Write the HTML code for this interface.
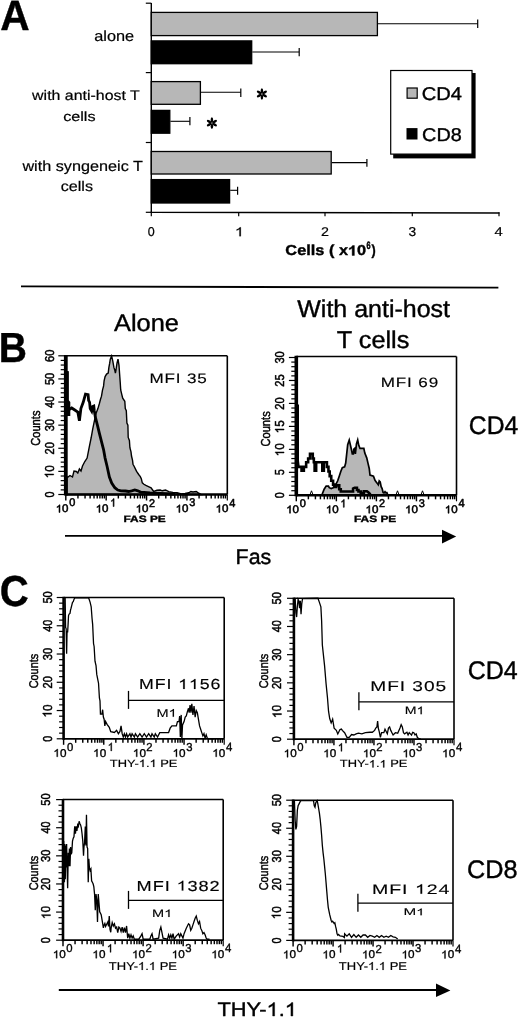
<!DOCTYPE html>
<html><head><meta charset="utf-8"><style>
html,body{margin:0;padding:0;background:#fff;}
svg{display:block;will-change:transform;}
text{text-rendering:geometricPrecision;}
text{font-family:"Liberation Sans",sans-serif;}
</style></head><body>
<svg width="520" height="1019" viewBox="0 0 520 1019">
<rect width="520" height="1019" fill="#fff"/>
<line x1="151.30" y1="3.00" x2="151.30" y2="212.80" stroke="#000" stroke-width="1.4" stroke-linecap="butt"/>
<line x1="145.80" y1="3.20" x2="151.30" y2="3.20" stroke="#000" stroke-width="1.2" stroke-linecap="butt"/>
<line x1="145.80" y1="72.60" x2="151.30" y2="72.60" stroke="#000" stroke-width="1.2" stroke-linecap="butt"/>
<line x1="145.80" y1="142.50" x2="151.30" y2="142.50" stroke="#000" stroke-width="1.2" stroke-linecap="butt"/>
<line x1="145.80" y1="212.30" x2="151.30" y2="212.30" stroke="#000" stroke-width="1.2" stroke-linecap="butt"/>
<line x1="150.60" y1="212.30" x2="499.50" y2="213.00" stroke="#000" stroke-width="1.3" stroke-linecap="butt"/>
<line x1="151.30" y1="212.30" x2="151.30" y2="216.30" stroke="#000" stroke-width="1.2" stroke-linecap="butt"/>
<line x1="238.70" y1="212.30" x2="238.70" y2="216.30" stroke="#000" stroke-width="1.2" stroke-linecap="butt"/>
<line x1="325.00" y1="212.30" x2="325.00" y2="216.30" stroke="#000" stroke-width="1.2" stroke-linecap="butt"/>
<line x1="412.30" y1="212.30" x2="412.30" y2="216.30" stroke="#000" stroke-width="1.2" stroke-linecap="butt"/>
<line x1="499.00" y1="212.30" x2="499.00" y2="216.30" stroke="#000" stroke-width="1.2" stroke-linecap="butt"/>
<line x1="378.00" y1="23.70" x2="477.70" y2="23.70" stroke="#000" stroke-width="1.1" stroke-linecap="butt"/>
<line x1="477.70" y1="19.40" x2="477.70" y2="27.90" stroke="#000" stroke-width="1.2" stroke-linecap="butt"/>
<rect x="151.30" y="12.40" width="226.10" height="23.20" fill="#b7b7b7" stroke="#000" stroke-width="1.3"/>
<line x1="252.30" y1="52.00" x2="299.20" y2="52.00" stroke="#000" stroke-width="1.1" stroke-linecap="butt"/>
<line x1="299.20" y1="48.00" x2="299.20" y2="56.20" stroke="#000" stroke-width="1.2" stroke-linecap="butt"/>
<rect x="151.30" y="40.90" width="100.40" height="22.80" fill="#000" stroke="#000" stroke-width="1.3"/>
<line x1="201.00" y1="92.30" x2="240.80" y2="92.30" stroke="#000" stroke-width="1.1" stroke-linecap="butt"/>
<line x1="240.80" y1="88.50" x2="240.80" y2="96.90" stroke="#000" stroke-width="1.2" stroke-linecap="butt"/>
<rect x="151.30" y="81.60" width="49.10" height="22.70" fill="#b7b7b7" stroke="#000" stroke-width="1.3"/>
<line x1="170.40" y1="121.30" x2="189.90" y2="121.30" stroke="#000" stroke-width="1.1" stroke-linecap="butt"/>
<line x1="189.90" y1="117.00" x2="189.90" y2="125.20" stroke="#000" stroke-width="1.2" stroke-linecap="butt"/>
<rect x="151.30" y="110.40" width="18.50" height="22.80" fill="#000" stroke="#000" stroke-width="1.3"/>
<line x1="331.80" y1="162.60" x2="366.90" y2="162.60" stroke="#000" stroke-width="1.1" stroke-linecap="butt"/>
<line x1="366.90" y1="159.00" x2="366.90" y2="166.80" stroke="#000" stroke-width="1.2" stroke-linecap="butt"/>
<rect x="151.30" y="151.50" width="179.90" height="22.50" fill="#b7b7b7" stroke="#000" stroke-width="1.3"/>
<line x1="230.20" y1="190.30" x2="237.60" y2="190.30" stroke="#000" stroke-width="1.1" stroke-linecap="butt"/>
<line x1="237.60" y1="186.80" x2="237.60" y2="194.80" stroke="#000" stroke-width="1.2" stroke-linecap="butt"/>
<rect x="151.30" y="179.60" width="78.30" height="23.40" fill="#000" stroke="#000" stroke-width="1.3"/>
<ellipse cx="261.90" cy="90.90" rx="2.7" ry="1.25" transform="rotate(-90 261.90 90.90)" fill="#000"/>
<ellipse cx="261.90" cy="97.10" rx="2.7" ry="1.25" transform="rotate(-270 261.90 97.10)" fill="#000"/>
<ellipse cx="264.58" cy="92.45" rx="2.7" ry="1.25" transform="rotate(-30 264.58 92.45)" fill="#000"/>
<ellipse cx="259.22" cy="92.45" rx="2.7" ry="1.25" transform="rotate(-150 259.22 92.45)" fill="#000"/>
<ellipse cx="259.22" cy="95.55" rx="2.7" ry="1.25" transform="rotate(-210 259.22 95.55)" fill="#000"/>
<ellipse cx="264.58" cy="95.55" rx="2.7" ry="1.25" transform="rotate(-330 264.58 95.55)" fill="#000"/>
<ellipse cx="211.90" cy="120.00" rx="2.7" ry="1.25" transform="rotate(-90 211.90 120.00)" fill="#000"/>
<ellipse cx="211.90" cy="126.20" rx="2.7" ry="1.25" transform="rotate(-270 211.90 126.20)" fill="#000"/>
<ellipse cx="214.58" cy="121.55" rx="2.7" ry="1.25" transform="rotate(-30 214.58 121.55)" fill="#000"/>
<ellipse cx="209.22" cy="121.55" rx="2.7" ry="1.25" transform="rotate(-150 209.22 121.55)" fill="#000"/>
<ellipse cx="209.22" cy="124.65" rx="2.7" ry="1.25" transform="rotate(-210 209.22 124.65)" fill="#000"/>
<ellipse cx="214.58" cy="124.65" rx="2.7" ry="1.25" transform="rotate(-330 214.58 124.65)" fill="#000"/>
<rect x="393.20" y="73.00" width="82.40" height="85.40" fill="#000" stroke="none" stroke-width="1"/>
<rect x="390.70" y="70.50" width="81.30" height="83.60" fill="#fff" stroke="#000" stroke-width="1.2"/>
<rect x="407.10" y="88.00" width="10.10" height="10.20" fill="#b7b7b7" stroke="#000" stroke-width="1.2"/>
<rect x="406.50" y="128.10" width="11.00" height="11.40" fill="#000" stroke="none" stroke-width="1"/>
<line x1="21.00" y1="286.30" x2="498.40" y2="287.70" stroke="#000" stroke-width="1.8" stroke-linecap="butt"/>
<line x1="65.00" y1="535.90" x2="443.00" y2="535.90" stroke="#000" stroke-width="1.9" stroke-linecap="butt"/>
<path d="M442.00,529.80 L456.20,536.60 L442.00,543.50 Z" fill="#000" stroke="none" stroke-width="1" stroke-linejoin="miter"/>
<line x1="58.80" y1="990.00" x2="437.00" y2="990.00" stroke="#000" stroke-width="1.9" stroke-linecap="butt"/>
<path d="M436.00,983.60 L450.40,990.40 L436.00,997.10 Z" fill="#000" stroke="none" stroke-width="1" stroke-linejoin="miter"/>
<path d="M67.00,494.50 L67.00,477.00 L68.00,477.00 L70.00,475.50 L72.50,477.00 L74.00,471.00 L76.30,471.50 L77.80,473.00 L79.40,469.00 L81.00,471.00 L82.50,466.00 L84.80,461.50 L87.10,458.10 L89.10,447.80 L91.20,437.50 L92.70,429.20 L94.80,418.90 L96.30,412.70 L97.90,408.60 L99.40,403.50 L100.50,399.30 L101.50,396.20 L102.50,390.10 L103.60,385.90 L104.10,380.80 L105.10,376.60 L106.60,374.10 L108.20,373.00 L108.90,367.40 L109.70,363.20 L110.30,359.10 L111.60,356.00 L112.80,361.20 L113.90,367.40 L114.90,370.50 L115.40,373.00 L115.90,370.50 L117.00,363.20 L118.00,359.10 L119.00,365.30 L119.50,372.50 L120.20,382.00 L120.70,390.00 L121.70,394.10 L122.70,398.20 L124.80,401.30 L125.30,408.60 L126.30,410.60 L126.90,423.00 L127.90,425.10 L128.20,437.40 L129.40,440.50 L129.90,447.70 L131.00,451.90 L131.50,456.00 L132.50,460.10 L133.00,464.20 L134.10,466.30 L135.60,469.40 L136.60,471.40 L138.70,474.50 L140.30,476.60 L141.30,478.70 L142.30,482.80 L143.90,484.30 L145.90,485.40 L149.00,486.90 L151.10,487.90 L152.60,490.00 L153.70,491.50 L157.00,490.30 L160.20,490.00 L162.30,490.80 L165.50,490.00 L168.70,491.70 L172.90,492.40 L177.10,492.80 L181.30,494.00 L185.00,493.50 L188.80,492.80 L190.90,491.50 L193.00,492.00 L196.20,491.50 L198.30,492.80 L200.40,494.00 L201.00,494.50 Z" fill="#b7b7b7" stroke="#000" stroke-width="1.4" stroke-linejoin="miter"/>
<path d="M67.30,371.50 L67.30,408.50 L70.00,409.00 L71.70,408.00 L74.80,410.00 L77.80,412.00 L79.40,420.80 L80.90,408.50 L83.20,402.30 L85.50,394.20 L88.10,394.70 L88.60,400.40 L89.60,402.40 L90.20,408.60 L91.70,411.20 L92.70,406.50 L93.80,406.00 L94.30,410.70 L95.30,416.90 L97.40,425.10 L99.40,433.40 L101.50,441.60 L103.60,449.80 L105.10,458.10 L107.00,466.00 L109.40,477.00 L111.70,483.00 L114.80,487.70 L117.80,490.00 L121.00,490.80 L125.50,491.00 L128.60,491.50 L131.70,490.80 L134.80,490.00 L137.80,490.80 L141.00,492.30 L144.00,492.30 L150.00,493.00 L160.00,493.50 L175.00,494.00" fill="none" stroke="#000" stroke-width="2.8" stroke-linejoin="miter"/>
<path d="M64.00,371.00 L68.60,371.00 L68.60,400.00 L70.30,402.00 L70.30,416.00 L64.00,416.00 Z" fill="#000" stroke="none" stroke-width="1" stroke-linejoin="miter"/>
<line x1="65.80" y1="355.80" x2="227.30" y2="355.80" stroke="#000" stroke-width="1.5" stroke-linecap="butt"/>
<line x1="227.30" y1="355.80" x2="227.30" y2="494.50" stroke="#000" stroke-width="1.6" stroke-linecap="butt"/>
<line x1="65.80" y1="494.50" x2="227.30" y2="494.50" stroke="#000" stroke-width="2.4" stroke-linecap="butt"/>
<line x1="65.80" y1="355.10" x2="65.80" y2="495.50" stroke="#000" stroke-width="3.8" stroke-linecap="butt"/>
<line x1="58.30" y1="494.50" x2="65.80" y2="494.50" stroke="#000" stroke-width="1.2" stroke-linecap="butt"/>
<line x1="60.70" y1="489.88" x2="65.80" y2="489.88" stroke="#000" stroke-width="1.2" stroke-linecap="butt"/>
<line x1="60.70" y1="485.25" x2="65.80" y2="485.25" stroke="#000" stroke-width="1.2" stroke-linecap="butt"/>
<line x1="60.70" y1="480.63" x2="65.80" y2="480.63" stroke="#000" stroke-width="1.2" stroke-linecap="butt"/>
<line x1="60.70" y1="476.01" x2="65.80" y2="476.01" stroke="#000" stroke-width="1.2" stroke-linecap="butt"/>
<line x1="58.30" y1="471.38" x2="65.80" y2="471.38" stroke="#000" stroke-width="1.2" stroke-linecap="butt"/>
<line x1="60.70" y1="466.76" x2="65.80" y2="466.76" stroke="#000" stroke-width="1.2" stroke-linecap="butt"/>
<line x1="60.70" y1="462.14" x2="65.80" y2="462.14" stroke="#000" stroke-width="1.2" stroke-linecap="butt"/>
<line x1="60.70" y1="457.51" x2="65.80" y2="457.51" stroke="#000" stroke-width="1.2" stroke-linecap="butt"/>
<line x1="60.70" y1="452.89" x2="65.80" y2="452.89" stroke="#000" stroke-width="1.2" stroke-linecap="butt"/>
<line x1="58.30" y1="448.27" x2="65.80" y2="448.27" stroke="#000" stroke-width="1.2" stroke-linecap="butt"/>
<line x1="60.70" y1="443.64" x2="65.80" y2="443.64" stroke="#000" stroke-width="1.2" stroke-linecap="butt"/>
<line x1="60.70" y1="439.02" x2="65.80" y2="439.02" stroke="#000" stroke-width="1.2" stroke-linecap="butt"/>
<line x1="60.70" y1="434.40" x2="65.80" y2="434.40" stroke="#000" stroke-width="1.2" stroke-linecap="butt"/>
<line x1="60.70" y1="429.77" x2="65.80" y2="429.77" stroke="#000" stroke-width="1.2" stroke-linecap="butt"/>
<line x1="58.30" y1="425.15" x2="65.80" y2="425.15" stroke="#000" stroke-width="1.2" stroke-linecap="butt"/>
<line x1="60.70" y1="420.53" x2="65.80" y2="420.53" stroke="#000" stroke-width="1.2" stroke-linecap="butt"/>
<line x1="60.70" y1="415.90" x2="65.80" y2="415.90" stroke="#000" stroke-width="1.2" stroke-linecap="butt"/>
<line x1="60.70" y1="411.28" x2="65.80" y2="411.28" stroke="#000" stroke-width="1.2" stroke-linecap="butt"/>
<line x1="60.70" y1="406.66" x2="65.80" y2="406.66" stroke="#000" stroke-width="1.2" stroke-linecap="butt"/>
<line x1="58.30" y1="402.03" x2="65.80" y2="402.03" stroke="#000" stroke-width="1.2" stroke-linecap="butt"/>
<line x1="60.70" y1="397.41" x2="65.80" y2="397.41" stroke="#000" stroke-width="1.2" stroke-linecap="butt"/>
<line x1="60.70" y1="392.79" x2="65.80" y2="392.79" stroke="#000" stroke-width="1.2" stroke-linecap="butt"/>
<line x1="60.70" y1="388.16" x2="65.80" y2="388.16" stroke="#000" stroke-width="1.2" stroke-linecap="butt"/>
<line x1="60.70" y1="383.54" x2="65.80" y2="383.54" stroke="#000" stroke-width="1.2" stroke-linecap="butt"/>
<line x1="58.30" y1="378.92" x2="65.80" y2="378.92" stroke="#000" stroke-width="1.2" stroke-linecap="butt"/>
<line x1="60.70" y1="374.29" x2="65.80" y2="374.29" stroke="#000" stroke-width="1.2" stroke-linecap="butt"/>
<line x1="60.70" y1="369.67" x2="65.80" y2="369.67" stroke="#000" stroke-width="1.2" stroke-linecap="butt"/>
<line x1="60.70" y1="365.05" x2="65.80" y2="365.05" stroke="#000" stroke-width="1.2" stroke-linecap="butt"/>
<line x1="60.70" y1="360.42" x2="65.80" y2="360.42" stroke="#000" stroke-width="1.2" stroke-linecap="butt"/>
<line x1="58.30" y1="355.80" x2="65.80" y2="355.80" stroke="#000" stroke-width="1.2" stroke-linecap="butt"/>
<line x1="65.80" y1="494.50" x2="65.80" y2="500.50" stroke="#000" stroke-width="1.45" stroke-linecap="butt"/>
<line x1="77.95" y1="494.50" x2="77.95" y2="498.50" stroke="#000" stroke-width="1.45" stroke-linecap="butt"/>
<line x1="85.06" y1="494.50" x2="85.06" y2="498.50" stroke="#000" stroke-width="1.45" stroke-linecap="butt"/>
<line x1="90.11" y1="494.50" x2="90.11" y2="498.50" stroke="#000" stroke-width="1.45" stroke-linecap="butt"/>
<line x1="94.02" y1="494.50" x2="94.02" y2="498.50" stroke="#000" stroke-width="1.45" stroke-linecap="butt"/>
<line x1="97.22" y1="494.50" x2="97.22" y2="498.50" stroke="#000" stroke-width="1.45" stroke-linecap="butt"/>
<line x1="99.92" y1="494.50" x2="99.92" y2="498.50" stroke="#000" stroke-width="1.45" stroke-linecap="butt"/>
<line x1="102.26" y1="494.50" x2="102.26" y2="498.50" stroke="#000" stroke-width="1.45" stroke-linecap="butt"/>
<line x1="104.33" y1="494.50" x2="104.33" y2="498.50" stroke="#000" stroke-width="1.45" stroke-linecap="butt"/>
<line x1="106.17" y1="494.50" x2="106.17" y2="500.50" stroke="#000" stroke-width="1.45" stroke-linecap="butt"/>
<line x1="118.33" y1="494.50" x2="118.33" y2="498.50" stroke="#000" stroke-width="1.45" stroke-linecap="butt"/>
<line x1="125.44" y1="494.50" x2="125.44" y2="498.50" stroke="#000" stroke-width="1.45" stroke-linecap="butt"/>
<line x1="130.48" y1="494.50" x2="130.48" y2="498.50" stroke="#000" stroke-width="1.45" stroke-linecap="butt"/>
<line x1="134.40" y1="494.50" x2="134.40" y2="498.50" stroke="#000" stroke-width="1.45" stroke-linecap="butt"/>
<line x1="137.59" y1="494.50" x2="137.59" y2="498.50" stroke="#000" stroke-width="1.45" stroke-linecap="butt"/>
<line x1="140.30" y1="494.50" x2="140.30" y2="498.50" stroke="#000" stroke-width="1.45" stroke-linecap="butt"/>
<line x1="142.64" y1="494.50" x2="142.64" y2="498.50" stroke="#000" stroke-width="1.45" stroke-linecap="butt"/>
<line x1="144.70" y1="494.50" x2="144.70" y2="498.50" stroke="#000" stroke-width="1.45" stroke-linecap="butt"/>
<line x1="146.55" y1="494.50" x2="146.55" y2="500.50" stroke="#000" stroke-width="1.45" stroke-linecap="butt"/>
<line x1="158.70" y1="494.50" x2="158.70" y2="498.50" stroke="#000" stroke-width="1.45" stroke-linecap="butt"/>
<line x1="165.81" y1="494.50" x2="165.81" y2="498.50" stroke="#000" stroke-width="1.45" stroke-linecap="butt"/>
<line x1="170.86" y1="494.50" x2="170.86" y2="498.50" stroke="#000" stroke-width="1.45" stroke-linecap="butt"/>
<line x1="174.77" y1="494.50" x2="174.77" y2="498.50" stroke="#000" stroke-width="1.45" stroke-linecap="butt"/>
<line x1="177.97" y1="494.50" x2="177.97" y2="498.50" stroke="#000" stroke-width="1.45" stroke-linecap="butt"/>
<line x1="180.67" y1="494.50" x2="180.67" y2="498.50" stroke="#000" stroke-width="1.45" stroke-linecap="butt"/>
<line x1="183.01" y1="494.50" x2="183.01" y2="498.50" stroke="#000" stroke-width="1.45" stroke-linecap="butt"/>
<line x1="185.08" y1="494.50" x2="185.08" y2="498.50" stroke="#000" stroke-width="1.45" stroke-linecap="butt"/>
<line x1="186.93" y1="494.50" x2="186.93" y2="500.50" stroke="#000" stroke-width="1.45" stroke-linecap="butt"/>
<line x1="199.08" y1="494.50" x2="199.08" y2="498.50" stroke="#000" stroke-width="1.45" stroke-linecap="butt"/>
<line x1="206.19" y1="494.50" x2="206.19" y2="498.50" stroke="#000" stroke-width="1.45" stroke-linecap="butt"/>
<line x1="211.23" y1="494.50" x2="211.23" y2="498.50" stroke="#000" stroke-width="1.45" stroke-linecap="butt"/>
<line x1="215.15" y1="494.50" x2="215.15" y2="498.50" stroke="#000" stroke-width="1.45" stroke-linecap="butt"/>
<line x1="218.34" y1="494.50" x2="218.34" y2="498.50" stroke="#000" stroke-width="1.45" stroke-linecap="butt"/>
<line x1="221.05" y1="494.50" x2="221.05" y2="498.50" stroke="#000" stroke-width="1.45" stroke-linecap="butt"/>
<line x1="223.39" y1="494.50" x2="223.39" y2="498.50" stroke="#000" stroke-width="1.45" stroke-linecap="butt"/>
<line x1="225.45" y1="494.50" x2="225.45" y2="498.50" stroke="#000" stroke-width="1.45" stroke-linecap="butt"/>
<line x1="227.30" y1="494.50" x2="227.30" y2="500.50" stroke="#000" stroke-width="1.2" stroke-linecap="butt"/>
<path d="M322.31,495.30 L322.31,493.85 L324.15,489.23 L326.15,486.15 L328.46,486.15 L329.23,487.69 L331.23,488.46 L333.08,487.69 L334.62,486.15 L336.15,483.85 L337.69,480.77 L339.23,476.15 L340.77,471.54 L342.31,467.69 L344.62,466.92 L345.69,463.08 L346.62,454.62 L347.69,444.62 L349.23,440.00 L350.31,444.62 L351.54,450.00 L352.31,453.85 L353.38,453.85 L353.85,449.23 L354.62,448.46 L355.38,453.85 L356.46,443.85 L357.69,440.00 L358.77,445.38 L360.00,448.46 L363.85,448.46 L364.81,453.08 L366.73,457.88 L368.08,463.65 L369.23,468.46 L370.00,475.19 L373.46,476.15 L375.00,480.38 L376.92,482.88 L378.27,484.81 L379.23,480.96 L380.19,481.92 L381.15,486.73 L382.12,488.65 L383.08,492.50 L386.92,492.50 L387.88,495.30 Z" fill="#b7b7b7" stroke="#000" stroke-width="1.7" stroke-linejoin="miter"/>
<path d="M297.69,404.50 L297.69,460.77 L298.46,466.92 L301.54,466.92 L301.54,470.77 L303.85,470.77 L303.85,466.92 L306.15,466.92 L306.15,462.31 L308.15,462.31 L308.15,458.46 L310.00,458.46 L310.00,453.85 L312.77,453.85 L312.77,458.46 L313.85,458.46 L313.85,462.31 L314.62,462.31 L314.62,470.77 L316.15,470.77 L316.15,462.31 L322.31,462.31 L322.31,470.77 L323.85,470.77 L323.85,462.31 L326.92,462.31 L326.92,466.92 L328.46,466.92 L328.46,471.54 L329.69,471.54 L329.69,476.15 L331.23,476.15 L331.23,480.77 L333.08,480.77 L333.08,484.62 L334.62,484.62 L334.62,486.92 L336.15,486.92 L336.15,485.38 L339.23,485.38 L339.23,489.23 L340.77,489.23 L340.77,491.54 L353.08,491.54 L353.08,488.46 L354.62,487.69 L356.92,487.69 L356.92,490.00 L358.46,490.00 L358.46,491.54 L360.77,491.54 L360.77,493.08 L363.85,493.08 L363.85,491.23 L366.92,491.23 L368.50,492.50 L370.50,494.50" fill="none" stroke="#000" stroke-width="2.6" stroke-linejoin="miter"/>
<path d="M309.90,495.00 L311.50,490.80 L313.10,495.00" fill="none" stroke="#000" stroke-width="1.0" stroke-linejoin="miter"/>
<path d="M383.40,495.00 L385.00,490.80 L386.60,495.00" fill="none" stroke="#000" stroke-width="1.0" stroke-linejoin="miter"/>
<path d="M395.90,495.00 L397.50,490.80 L399.10,495.00" fill="none" stroke="#000" stroke-width="1.0" stroke-linejoin="miter"/>
<path d="M420.90,495.00 L422.50,490.80 L424.10,495.00" fill="none" stroke="#000" stroke-width="1.0" stroke-linejoin="miter"/>
<line x1="296.30" y1="356.50" x2="456.50" y2="356.50" stroke="#000" stroke-width="1.5" stroke-linecap="butt"/>
<line x1="456.50" y1="356.50" x2="456.50" y2="495.30" stroke="#000" stroke-width="1.6" stroke-linecap="butt"/>
<line x1="296.30" y1="495.30" x2="456.50" y2="495.30" stroke="#000" stroke-width="2.4" stroke-linecap="butt"/>
<line x1="296.30" y1="355.80" x2="296.30" y2="496.30" stroke="#000" stroke-width="3.6" stroke-linecap="butt"/>
<line x1="288.90" y1="495.30" x2="296.30" y2="495.30" stroke="#000" stroke-width="1.2" stroke-linecap="butt"/>
<line x1="291.30" y1="490.71" x2="296.30" y2="490.71" stroke="#000" stroke-width="1.2" stroke-linecap="butt"/>
<line x1="291.30" y1="486.11" x2="296.30" y2="486.11" stroke="#000" stroke-width="1.2" stroke-linecap="butt"/>
<line x1="291.30" y1="481.52" x2="296.30" y2="481.52" stroke="#000" stroke-width="1.2" stroke-linecap="butt"/>
<line x1="291.30" y1="476.93" x2="296.30" y2="476.93" stroke="#000" stroke-width="1.2" stroke-linecap="butt"/>
<line x1="288.90" y1="472.33" x2="296.30" y2="472.33" stroke="#000" stroke-width="1.2" stroke-linecap="butt"/>
<line x1="291.30" y1="467.74" x2="296.30" y2="467.74" stroke="#000" stroke-width="1.2" stroke-linecap="butt"/>
<line x1="291.30" y1="463.15" x2="296.30" y2="463.15" stroke="#000" stroke-width="1.2" stroke-linecap="butt"/>
<line x1="291.30" y1="458.55" x2="296.30" y2="458.55" stroke="#000" stroke-width="1.2" stroke-linecap="butt"/>
<line x1="291.30" y1="453.96" x2="296.30" y2="453.96" stroke="#000" stroke-width="1.2" stroke-linecap="butt"/>
<line x1="288.90" y1="449.37" x2="296.30" y2="449.37" stroke="#000" stroke-width="1.2" stroke-linecap="butt"/>
<line x1="291.30" y1="444.77" x2="296.30" y2="444.77" stroke="#000" stroke-width="1.2" stroke-linecap="butt"/>
<line x1="291.30" y1="440.18" x2="296.30" y2="440.18" stroke="#000" stroke-width="1.2" stroke-linecap="butt"/>
<line x1="291.30" y1="435.59" x2="296.30" y2="435.59" stroke="#000" stroke-width="1.2" stroke-linecap="butt"/>
<line x1="291.30" y1="430.99" x2="296.30" y2="430.99" stroke="#000" stroke-width="1.2" stroke-linecap="butt"/>
<line x1="288.90" y1="426.40" x2="296.30" y2="426.40" stroke="#000" stroke-width="1.2" stroke-linecap="butt"/>
<line x1="291.30" y1="421.81" x2="296.30" y2="421.81" stroke="#000" stroke-width="1.2" stroke-linecap="butt"/>
<line x1="291.30" y1="417.21" x2="296.30" y2="417.21" stroke="#000" stroke-width="1.2" stroke-linecap="butt"/>
<line x1="291.30" y1="412.62" x2="296.30" y2="412.62" stroke="#000" stroke-width="1.2" stroke-linecap="butt"/>
<line x1="291.30" y1="408.03" x2="296.30" y2="408.03" stroke="#000" stroke-width="1.2" stroke-linecap="butt"/>
<line x1="288.90" y1="403.43" x2="296.30" y2="403.43" stroke="#000" stroke-width="1.2" stroke-linecap="butt"/>
<line x1="291.30" y1="398.84" x2="296.30" y2="398.84" stroke="#000" stroke-width="1.2" stroke-linecap="butt"/>
<line x1="291.30" y1="394.25" x2="296.30" y2="394.25" stroke="#000" stroke-width="1.2" stroke-linecap="butt"/>
<line x1="291.30" y1="389.65" x2="296.30" y2="389.65" stroke="#000" stroke-width="1.2" stroke-linecap="butt"/>
<line x1="291.30" y1="385.06" x2="296.30" y2="385.06" stroke="#000" stroke-width="1.2" stroke-linecap="butt"/>
<line x1="288.90" y1="380.47" x2="296.30" y2="380.47" stroke="#000" stroke-width="1.2" stroke-linecap="butt"/>
<line x1="291.30" y1="375.87" x2="296.30" y2="375.87" stroke="#000" stroke-width="1.2" stroke-linecap="butt"/>
<line x1="291.30" y1="371.28" x2="296.30" y2="371.28" stroke="#000" stroke-width="1.2" stroke-linecap="butt"/>
<line x1="291.30" y1="366.69" x2="296.30" y2="366.69" stroke="#000" stroke-width="1.2" stroke-linecap="butt"/>
<line x1="291.30" y1="362.09" x2="296.30" y2="362.09" stroke="#000" stroke-width="1.2" stroke-linecap="butt"/>
<line x1="288.90" y1="357.50" x2="296.30" y2="357.50" stroke="#000" stroke-width="1.2" stroke-linecap="butt"/>
<line x1="296.30" y1="495.30" x2="296.30" y2="501.30" stroke="#000" stroke-width="1.45" stroke-linecap="butt"/>
<line x1="308.36" y1="495.30" x2="308.36" y2="499.30" stroke="#000" stroke-width="1.45" stroke-linecap="butt"/>
<line x1="315.41" y1="495.30" x2="315.41" y2="499.30" stroke="#000" stroke-width="1.45" stroke-linecap="butt"/>
<line x1="320.41" y1="495.30" x2="320.41" y2="499.30" stroke="#000" stroke-width="1.45" stroke-linecap="butt"/>
<line x1="324.29" y1="495.30" x2="324.29" y2="499.30" stroke="#000" stroke-width="1.45" stroke-linecap="butt"/>
<line x1="327.46" y1="495.30" x2="327.46" y2="499.30" stroke="#000" stroke-width="1.45" stroke-linecap="butt"/>
<line x1="330.15" y1="495.30" x2="330.15" y2="499.30" stroke="#000" stroke-width="1.45" stroke-linecap="butt"/>
<line x1="332.47" y1="495.30" x2="332.47" y2="499.30" stroke="#000" stroke-width="1.45" stroke-linecap="butt"/>
<line x1="334.52" y1="495.30" x2="334.52" y2="499.30" stroke="#000" stroke-width="1.45" stroke-linecap="butt"/>
<line x1="336.35" y1="495.30" x2="336.35" y2="501.30" stroke="#000" stroke-width="1.45" stroke-linecap="butt"/>
<line x1="348.41" y1="495.30" x2="348.41" y2="499.30" stroke="#000" stroke-width="1.45" stroke-linecap="butt"/>
<line x1="355.46" y1="495.30" x2="355.46" y2="499.30" stroke="#000" stroke-width="1.45" stroke-linecap="butt"/>
<line x1="360.46" y1="495.30" x2="360.46" y2="499.30" stroke="#000" stroke-width="1.45" stroke-linecap="butt"/>
<line x1="364.34" y1="495.30" x2="364.34" y2="499.30" stroke="#000" stroke-width="1.45" stroke-linecap="butt"/>
<line x1="367.51" y1="495.30" x2="367.51" y2="499.30" stroke="#000" stroke-width="1.45" stroke-linecap="butt"/>
<line x1="370.20" y1="495.30" x2="370.20" y2="499.30" stroke="#000" stroke-width="1.45" stroke-linecap="butt"/>
<line x1="372.52" y1="495.30" x2="372.52" y2="499.30" stroke="#000" stroke-width="1.45" stroke-linecap="butt"/>
<line x1="374.57" y1="495.30" x2="374.57" y2="499.30" stroke="#000" stroke-width="1.45" stroke-linecap="butt"/>
<line x1="376.40" y1="495.30" x2="376.40" y2="501.30" stroke="#000" stroke-width="1.45" stroke-linecap="butt"/>
<line x1="388.46" y1="495.30" x2="388.46" y2="499.30" stroke="#000" stroke-width="1.45" stroke-linecap="butt"/>
<line x1="395.51" y1="495.30" x2="395.51" y2="499.30" stroke="#000" stroke-width="1.45" stroke-linecap="butt"/>
<line x1="400.51" y1="495.30" x2="400.51" y2="499.30" stroke="#000" stroke-width="1.45" stroke-linecap="butt"/>
<line x1="404.39" y1="495.30" x2="404.39" y2="499.30" stroke="#000" stroke-width="1.45" stroke-linecap="butt"/>
<line x1="407.56" y1="495.30" x2="407.56" y2="499.30" stroke="#000" stroke-width="1.45" stroke-linecap="butt"/>
<line x1="410.25" y1="495.30" x2="410.25" y2="499.30" stroke="#000" stroke-width="1.45" stroke-linecap="butt"/>
<line x1="412.57" y1="495.30" x2="412.57" y2="499.30" stroke="#000" stroke-width="1.45" stroke-linecap="butt"/>
<line x1="414.62" y1="495.30" x2="414.62" y2="499.30" stroke="#000" stroke-width="1.45" stroke-linecap="butt"/>
<line x1="416.45" y1="495.30" x2="416.45" y2="501.30" stroke="#000" stroke-width="1.45" stroke-linecap="butt"/>
<line x1="428.51" y1="495.30" x2="428.51" y2="499.30" stroke="#000" stroke-width="1.45" stroke-linecap="butt"/>
<line x1="435.56" y1="495.30" x2="435.56" y2="499.30" stroke="#000" stroke-width="1.45" stroke-linecap="butt"/>
<line x1="440.56" y1="495.30" x2="440.56" y2="499.30" stroke="#000" stroke-width="1.45" stroke-linecap="butt"/>
<line x1="444.44" y1="495.30" x2="444.44" y2="499.30" stroke="#000" stroke-width="1.45" stroke-linecap="butt"/>
<line x1="447.61" y1="495.30" x2="447.61" y2="499.30" stroke="#000" stroke-width="1.45" stroke-linecap="butt"/>
<line x1="450.30" y1="495.30" x2="450.30" y2="499.30" stroke="#000" stroke-width="1.45" stroke-linecap="butt"/>
<line x1="452.62" y1="495.30" x2="452.62" y2="499.30" stroke="#000" stroke-width="1.45" stroke-linecap="butt"/>
<line x1="454.67" y1="495.30" x2="454.67" y2="499.30" stroke="#000" stroke-width="1.45" stroke-linecap="butt"/>
<line x1="456.50" y1="495.30" x2="456.50" y2="501.30" stroke="#000" stroke-width="1.2" stroke-linecap="butt"/>
<path d="M65.15,597.94 L65.59,627.35 L66.18,628.82 L66.62,653.82 L67.06,631.76 L67.65,631.76 L68.09,624.41 L68.53,615.59 L69.12,614.12 L70.00,613.38 L70.59,609.71 L71.03,608.24 L71.76,605.29 L72.50,602.35 L73.24,601.62 L73.97,599.41 L74.71,597.94 L88.68,597.94 L90.15,602.35 L91.18,606.76 L92.06,618.53 L92.65,624.41 L93.53,643.53 L94.12,646.47 L95.00,661.18 L96.03,665.59 L96.76,674.41 L97.94,680.29 L98.53,683.24 L99.41,697.94 L100.00,700.88 L100.44,714.12 L101.91,714.12 L102.65,709.71 L103.38,717.06 L104.12,719.26 L104.85,725.88 L105.59,721.47 L107.06,724.41 L109.26,727.35 L110.74,731.76 L114.41,732.50 L116.63,730.38 L118.40,733.70 L119.95,731.49 L121.06,725.96 L122.16,733.70 L123.27,737.02 L124.37,733.70 L125.48,737.02 L126.59,733.70 L127.69,737.02 L129.90,733.70 L131.01,737.02 L132.11,733.70 L134.33,737.02 L135.43,733.70 L137.64,737.02 L139.85,733.70 L142.07,737.02 L144.28,733.70 L146.49,737.02 L148.70,733.70 L150.91,737.02 L152.02,733.70 L154.23,737.02 L155.33,733.70 L157.55,737.02 L159.76,732.59 L168.60,732.59 L170.15,728.17 L171.92,725.96 L176.34,725.96 L177.45,721.54 L179.00,721.54 L179.66,716.01 L180.32,737.02 L181.21,714.90 L181.87,739.23 L182.53,724.85 L184.08,721.54 L185.19,717.11 L186.29,716.01 L187.40,711.59 L188.51,708.27 L189.17,712.69 L190.05,704.95 L190.94,712.69 L191.82,703.85 L192.93,714.90 L194.03,706.06 L195.14,717.11 L196.25,710.48 L197.35,712.69 L198.46,719.33 L199.56,725.96 L200.67,729.28 L201.77,732.59 L202.88,735.91 L203.98,733.70 L205.09,738.12 L206.20,734.81 L207.30,738.12 L208.41,738.79 L213.94,738.79" fill="none" stroke="#000" stroke-width="1.3" stroke-linejoin="miter"/>
<line x1="63.60" y1="597.50" x2="224.20" y2="597.50" stroke="#000" stroke-width="1.5" stroke-linecap="butt"/>
<line x1="224.20" y1="597.50" x2="224.20" y2="738.80" stroke="#000" stroke-width="1.6" stroke-linecap="butt"/>
<line x1="63.60" y1="738.80" x2="224.20" y2="738.80" stroke="#000" stroke-width="1.8" stroke-linecap="butt"/>
<line x1="63.60" y1="596.80" x2="63.60" y2="739.80" stroke="#000" stroke-width="2.6" stroke-linecap="butt"/>
<line x1="56.70" y1="738.80" x2="63.60" y2="738.80" stroke="#000" stroke-width="1.2" stroke-linecap="butt"/>
<line x1="59.10" y1="733.15" x2="63.60" y2="733.15" stroke="#000" stroke-width="1.2" stroke-linecap="butt"/>
<line x1="59.10" y1="727.50" x2="63.60" y2="727.50" stroke="#000" stroke-width="1.2" stroke-linecap="butt"/>
<line x1="59.10" y1="721.84" x2="63.60" y2="721.84" stroke="#000" stroke-width="1.2" stroke-linecap="butt"/>
<line x1="59.10" y1="716.19" x2="63.60" y2="716.19" stroke="#000" stroke-width="1.2" stroke-linecap="butt"/>
<line x1="56.70" y1="710.54" x2="63.60" y2="710.54" stroke="#000" stroke-width="1.2" stroke-linecap="butt"/>
<line x1="59.10" y1="704.89" x2="63.60" y2="704.89" stroke="#000" stroke-width="1.2" stroke-linecap="butt"/>
<line x1="59.10" y1="699.24" x2="63.60" y2="699.24" stroke="#000" stroke-width="1.2" stroke-linecap="butt"/>
<line x1="59.10" y1="693.58" x2="63.60" y2="693.58" stroke="#000" stroke-width="1.2" stroke-linecap="butt"/>
<line x1="59.10" y1="687.93" x2="63.60" y2="687.93" stroke="#000" stroke-width="1.2" stroke-linecap="butt"/>
<line x1="56.70" y1="682.28" x2="63.60" y2="682.28" stroke="#000" stroke-width="1.2" stroke-linecap="butt"/>
<line x1="59.10" y1="676.63" x2="63.60" y2="676.63" stroke="#000" stroke-width="1.2" stroke-linecap="butt"/>
<line x1="59.10" y1="670.98" x2="63.60" y2="670.98" stroke="#000" stroke-width="1.2" stroke-linecap="butt"/>
<line x1="59.10" y1="665.32" x2="63.60" y2="665.32" stroke="#000" stroke-width="1.2" stroke-linecap="butt"/>
<line x1="59.10" y1="659.67" x2="63.60" y2="659.67" stroke="#000" stroke-width="1.2" stroke-linecap="butt"/>
<line x1="56.70" y1="654.02" x2="63.60" y2="654.02" stroke="#000" stroke-width="1.2" stroke-linecap="butt"/>
<line x1="59.10" y1="648.37" x2="63.60" y2="648.37" stroke="#000" stroke-width="1.2" stroke-linecap="butt"/>
<line x1="59.10" y1="642.72" x2="63.60" y2="642.72" stroke="#000" stroke-width="1.2" stroke-linecap="butt"/>
<line x1="59.10" y1="637.06" x2="63.60" y2="637.06" stroke="#000" stroke-width="1.2" stroke-linecap="butt"/>
<line x1="59.10" y1="631.41" x2="63.60" y2="631.41" stroke="#000" stroke-width="1.2" stroke-linecap="butt"/>
<line x1="56.70" y1="625.76" x2="63.60" y2="625.76" stroke="#000" stroke-width="1.2" stroke-linecap="butt"/>
<line x1="59.10" y1="620.11" x2="63.60" y2="620.11" stroke="#000" stroke-width="1.2" stroke-linecap="butt"/>
<line x1="59.10" y1="614.46" x2="63.60" y2="614.46" stroke="#000" stroke-width="1.2" stroke-linecap="butt"/>
<line x1="59.10" y1="608.80" x2="63.60" y2="608.80" stroke="#000" stroke-width="1.2" stroke-linecap="butt"/>
<line x1="59.10" y1="603.15" x2="63.60" y2="603.15" stroke="#000" stroke-width="1.2" stroke-linecap="butt"/>
<line x1="56.70" y1="597.50" x2="63.60" y2="597.50" stroke="#000" stroke-width="1.2" stroke-linecap="butt"/>
<line x1="63.60" y1="738.80" x2="63.60" y2="744.80" stroke="#000" stroke-width="1.45" stroke-linecap="butt"/>
<line x1="75.69" y1="738.80" x2="75.69" y2="742.80" stroke="#000" stroke-width="1.45" stroke-linecap="butt"/>
<line x1="82.76" y1="738.80" x2="82.76" y2="742.80" stroke="#000" stroke-width="1.45" stroke-linecap="butt"/>
<line x1="87.77" y1="738.80" x2="87.77" y2="742.80" stroke="#000" stroke-width="1.45" stroke-linecap="butt"/>
<line x1="91.66" y1="738.80" x2="91.66" y2="742.80" stroke="#000" stroke-width="1.45" stroke-linecap="butt"/>
<line x1="94.84" y1="738.80" x2="94.84" y2="742.80" stroke="#000" stroke-width="1.45" stroke-linecap="butt"/>
<line x1="97.53" y1="738.80" x2="97.53" y2="742.80" stroke="#000" stroke-width="1.45" stroke-linecap="butt"/>
<line x1="99.86" y1="738.80" x2="99.86" y2="742.80" stroke="#000" stroke-width="1.45" stroke-linecap="butt"/>
<line x1="101.91" y1="738.80" x2="101.91" y2="742.80" stroke="#000" stroke-width="1.45" stroke-linecap="butt"/>
<line x1="103.75" y1="738.80" x2="103.75" y2="744.80" stroke="#000" stroke-width="1.45" stroke-linecap="butt"/>
<line x1="115.84" y1="738.80" x2="115.84" y2="742.80" stroke="#000" stroke-width="1.45" stroke-linecap="butt"/>
<line x1="122.91" y1="738.80" x2="122.91" y2="742.80" stroke="#000" stroke-width="1.45" stroke-linecap="butt"/>
<line x1="127.92" y1="738.80" x2="127.92" y2="742.80" stroke="#000" stroke-width="1.45" stroke-linecap="butt"/>
<line x1="131.81" y1="738.80" x2="131.81" y2="742.80" stroke="#000" stroke-width="1.45" stroke-linecap="butt"/>
<line x1="134.99" y1="738.80" x2="134.99" y2="742.80" stroke="#000" stroke-width="1.45" stroke-linecap="butt"/>
<line x1="137.68" y1="738.80" x2="137.68" y2="742.80" stroke="#000" stroke-width="1.45" stroke-linecap="butt"/>
<line x1="140.01" y1="738.80" x2="140.01" y2="742.80" stroke="#000" stroke-width="1.45" stroke-linecap="butt"/>
<line x1="142.06" y1="738.80" x2="142.06" y2="742.80" stroke="#000" stroke-width="1.45" stroke-linecap="butt"/>
<line x1="143.90" y1="738.80" x2="143.90" y2="744.80" stroke="#000" stroke-width="1.45" stroke-linecap="butt"/>
<line x1="155.99" y1="738.80" x2="155.99" y2="742.80" stroke="#000" stroke-width="1.45" stroke-linecap="butt"/>
<line x1="163.06" y1="738.80" x2="163.06" y2="742.80" stroke="#000" stroke-width="1.45" stroke-linecap="butt"/>
<line x1="168.07" y1="738.80" x2="168.07" y2="742.80" stroke="#000" stroke-width="1.45" stroke-linecap="butt"/>
<line x1="171.96" y1="738.80" x2="171.96" y2="742.80" stroke="#000" stroke-width="1.45" stroke-linecap="butt"/>
<line x1="175.14" y1="738.80" x2="175.14" y2="742.80" stroke="#000" stroke-width="1.45" stroke-linecap="butt"/>
<line x1="177.83" y1="738.80" x2="177.83" y2="742.80" stroke="#000" stroke-width="1.45" stroke-linecap="butt"/>
<line x1="180.16" y1="738.80" x2="180.16" y2="742.80" stroke="#000" stroke-width="1.45" stroke-linecap="butt"/>
<line x1="182.21" y1="738.80" x2="182.21" y2="742.80" stroke="#000" stroke-width="1.45" stroke-linecap="butt"/>
<line x1="184.05" y1="738.80" x2="184.05" y2="744.80" stroke="#000" stroke-width="1.45" stroke-linecap="butt"/>
<line x1="196.14" y1="738.80" x2="196.14" y2="742.80" stroke="#000" stroke-width="1.45" stroke-linecap="butt"/>
<line x1="203.21" y1="738.80" x2="203.21" y2="742.80" stroke="#000" stroke-width="1.45" stroke-linecap="butt"/>
<line x1="208.22" y1="738.80" x2="208.22" y2="742.80" stroke="#000" stroke-width="1.45" stroke-linecap="butt"/>
<line x1="212.11" y1="738.80" x2="212.11" y2="742.80" stroke="#000" stroke-width="1.45" stroke-linecap="butt"/>
<line x1="215.29" y1="738.80" x2="215.29" y2="742.80" stroke="#000" stroke-width="1.45" stroke-linecap="butt"/>
<line x1="217.98" y1="738.80" x2="217.98" y2="742.80" stroke="#000" stroke-width="1.45" stroke-linecap="butt"/>
<line x1="220.31" y1="738.80" x2="220.31" y2="742.80" stroke="#000" stroke-width="1.45" stroke-linecap="butt"/>
<line x1="222.36" y1="738.80" x2="222.36" y2="742.80" stroke="#000" stroke-width="1.45" stroke-linecap="butt"/>
<line x1="224.20" y1="738.80" x2="224.20" y2="744.80" stroke="#000" stroke-width="1.2" stroke-linecap="butt"/>
<line x1="128.50" y1="700.40" x2="224.20" y2="700.40" stroke="#000" stroke-width="1.3" stroke-linecap="butt"/>
<line x1="128.50" y1="690.90" x2="128.50" y2="708.90" stroke="#000" stroke-width="1.3" stroke-linecap="butt"/>
<path d="M295.15,597.94 L295.88,612.65 L296.62,617.06 L297.35,606.76 L298.09,599.41 L298.82,600.88 L299.56,608.24 L300.29,600.88 L301.03,614.12 L301.76,603.82 L302.50,598.68 L317.94,598.24 L319.41,602.35 L320.88,606.76 L321.62,620.74 L322.35,645.00 L324.56,665.59 L326.03,683.24 L327.50,697.94 L328.53,711.18 L329.71,718.53 L331.18,722.94 L332.65,719.26 L334.12,728.09 L336.32,730.29 L337.79,733.97 L340.00,729.56 L341.47,729.12 L342.31,730.39 L344.62,732.69 L346.92,737.31 L349.23,737.31 L351.54,734.54 L353.85,735.00 L356.16,733.85 L358.46,733.16 L361.92,733.85 L365.39,732.69 L370.00,732.23 L372.31,732.23 L374.62,730.39 L375.77,728.08 L376.93,726.92 L377.62,721.16 L378.31,728.08 L379.23,731.54 L380.39,737.31 L381.54,732.69 L383.85,732.69 L385.00,729.23 L386.16,731.54 L387.31,733.85 L388.47,728.08 L389.62,726.92 L390.77,730.39 L391.93,732.69 L393.08,735.00 L395.39,732.69 L397.70,733.16 L400.00,728.08 L401.16,724.62 L402.31,726.92 L403.47,732.69 L404.62,733.85 L406.93,732.23 L408.08,735.00 L409.24,732.69 L410.39,733.85 L411.54,735.00 L412.70,732.23 L413.85,732.69 L415.01,735.00 L416.16,733.85 L417.31,737.31 L418.47,738.46 L420.78,739.16" fill="none" stroke="#000" stroke-width="1.3" stroke-linejoin="miter"/>
<line x1="293.90" y1="598.30" x2="454.00" y2="598.30" stroke="#000" stroke-width="1.5" stroke-linecap="butt"/>
<line x1="454.00" y1="598.30" x2="454.00" y2="739.20" stroke="#000" stroke-width="1.6" stroke-linecap="butt"/>
<line x1="293.90" y1="739.20" x2="454.00" y2="739.20" stroke="#000" stroke-width="1.8" stroke-linecap="butt"/>
<line x1="293.90" y1="597.60" x2="293.90" y2="740.20" stroke="#000" stroke-width="2.6" stroke-linecap="butt"/>
<line x1="287.00" y1="739.20" x2="293.90" y2="739.20" stroke="#000" stroke-width="1.2" stroke-linecap="butt"/>
<line x1="289.40" y1="733.56" x2="293.90" y2="733.56" stroke="#000" stroke-width="1.2" stroke-linecap="butt"/>
<line x1="289.40" y1="727.93" x2="293.90" y2="727.93" stroke="#000" stroke-width="1.2" stroke-linecap="butt"/>
<line x1="289.40" y1="722.29" x2="293.90" y2="722.29" stroke="#000" stroke-width="1.2" stroke-linecap="butt"/>
<line x1="289.40" y1="716.66" x2="293.90" y2="716.66" stroke="#000" stroke-width="1.2" stroke-linecap="butt"/>
<line x1="287.00" y1="711.02" x2="293.90" y2="711.02" stroke="#000" stroke-width="1.2" stroke-linecap="butt"/>
<line x1="289.40" y1="705.38" x2="293.90" y2="705.38" stroke="#000" stroke-width="1.2" stroke-linecap="butt"/>
<line x1="289.40" y1="699.75" x2="293.90" y2="699.75" stroke="#000" stroke-width="1.2" stroke-linecap="butt"/>
<line x1="289.40" y1="694.11" x2="293.90" y2="694.11" stroke="#000" stroke-width="1.2" stroke-linecap="butt"/>
<line x1="289.40" y1="688.48" x2="293.90" y2="688.48" stroke="#000" stroke-width="1.2" stroke-linecap="butt"/>
<line x1="287.00" y1="682.84" x2="293.90" y2="682.84" stroke="#000" stroke-width="1.2" stroke-linecap="butt"/>
<line x1="289.40" y1="677.20" x2="293.90" y2="677.20" stroke="#000" stroke-width="1.2" stroke-linecap="butt"/>
<line x1="289.40" y1="671.57" x2="293.90" y2="671.57" stroke="#000" stroke-width="1.2" stroke-linecap="butt"/>
<line x1="289.40" y1="665.93" x2="293.90" y2="665.93" stroke="#000" stroke-width="1.2" stroke-linecap="butt"/>
<line x1="289.40" y1="660.30" x2="293.90" y2="660.30" stroke="#000" stroke-width="1.2" stroke-linecap="butt"/>
<line x1="287.00" y1="654.66" x2="293.90" y2="654.66" stroke="#000" stroke-width="1.2" stroke-linecap="butt"/>
<line x1="289.40" y1="649.02" x2="293.90" y2="649.02" stroke="#000" stroke-width="1.2" stroke-linecap="butt"/>
<line x1="289.40" y1="643.39" x2="293.90" y2="643.39" stroke="#000" stroke-width="1.2" stroke-linecap="butt"/>
<line x1="289.40" y1="637.75" x2="293.90" y2="637.75" stroke="#000" stroke-width="1.2" stroke-linecap="butt"/>
<line x1="289.40" y1="632.12" x2="293.90" y2="632.12" stroke="#000" stroke-width="1.2" stroke-linecap="butt"/>
<line x1="287.00" y1="626.48" x2="293.90" y2="626.48" stroke="#000" stroke-width="1.2" stroke-linecap="butt"/>
<line x1="289.40" y1="620.84" x2="293.90" y2="620.84" stroke="#000" stroke-width="1.2" stroke-linecap="butt"/>
<line x1="289.40" y1="615.21" x2="293.90" y2="615.21" stroke="#000" stroke-width="1.2" stroke-linecap="butt"/>
<line x1="289.40" y1="609.57" x2="293.90" y2="609.57" stroke="#000" stroke-width="1.2" stroke-linecap="butt"/>
<line x1="289.40" y1="603.94" x2="293.90" y2="603.94" stroke="#000" stroke-width="1.2" stroke-linecap="butt"/>
<line x1="287.00" y1="598.30" x2="293.90" y2="598.30" stroke="#000" stroke-width="1.2" stroke-linecap="butt"/>
<line x1="293.90" y1="739.20" x2="293.90" y2="745.20" stroke="#000" stroke-width="1.45" stroke-linecap="butt"/>
<line x1="305.95" y1="739.20" x2="305.95" y2="743.20" stroke="#000" stroke-width="1.45" stroke-linecap="butt"/>
<line x1="313.00" y1="739.20" x2="313.00" y2="743.20" stroke="#000" stroke-width="1.45" stroke-linecap="butt"/>
<line x1="318.00" y1="739.20" x2="318.00" y2="743.20" stroke="#000" stroke-width="1.45" stroke-linecap="butt"/>
<line x1="321.88" y1="739.20" x2="321.88" y2="743.20" stroke="#000" stroke-width="1.45" stroke-linecap="butt"/>
<line x1="325.05" y1="739.20" x2="325.05" y2="743.20" stroke="#000" stroke-width="1.45" stroke-linecap="butt"/>
<line x1="327.73" y1="739.20" x2="327.73" y2="743.20" stroke="#000" stroke-width="1.45" stroke-linecap="butt"/>
<line x1="330.05" y1="739.20" x2="330.05" y2="743.20" stroke="#000" stroke-width="1.45" stroke-linecap="butt"/>
<line x1="332.09" y1="739.20" x2="332.09" y2="743.20" stroke="#000" stroke-width="1.45" stroke-linecap="butt"/>
<line x1="333.92" y1="739.20" x2="333.92" y2="745.20" stroke="#000" stroke-width="1.45" stroke-linecap="butt"/>
<line x1="345.97" y1="739.20" x2="345.97" y2="743.20" stroke="#000" stroke-width="1.45" stroke-linecap="butt"/>
<line x1="353.02" y1="739.20" x2="353.02" y2="743.20" stroke="#000" stroke-width="1.45" stroke-linecap="butt"/>
<line x1="358.02" y1="739.20" x2="358.02" y2="743.20" stroke="#000" stroke-width="1.45" stroke-linecap="butt"/>
<line x1="361.90" y1="739.20" x2="361.90" y2="743.20" stroke="#000" stroke-width="1.45" stroke-linecap="butt"/>
<line x1="365.07" y1="739.20" x2="365.07" y2="743.20" stroke="#000" stroke-width="1.45" stroke-linecap="butt"/>
<line x1="367.75" y1="739.20" x2="367.75" y2="743.20" stroke="#000" stroke-width="1.45" stroke-linecap="butt"/>
<line x1="370.07" y1="739.20" x2="370.07" y2="743.20" stroke="#000" stroke-width="1.45" stroke-linecap="butt"/>
<line x1="372.12" y1="739.20" x2="372.12" y2="743.20" stroke="#000" stroke-width="1.45" stroke-linecap="butt"/>
<line x1="373.95" y1="739.20" x2="373.95" y2="745.20" stroke="#000" stroke-width="1.45" stroke-linecap="butt"/>
<line x1="386.00" y1="739.20" x2="386.00" y2="743.20" stroke="#000" stroke-width="1.45" stroke-linecap="butt"/>
<line x1="393.05" y1="739.20" x2="393.05" y2="743.20" stroke="#000" stroke-width="1.45" stroke-linecap="butt"/>
<line x1="398.05" y1="739.20" x2="398.05" y2="743.20" stroke="#000" stroke-width="1.45" stroke-linecap="butt"/>
<line x1="401.93" y1="739.20" x2="401.93" y2="743.20" stroke="#000" stroke-width="1.45" stroke-linecap="butt"/>
<line x1="405.10" y1="739.20" x2="405.10" y2="743.20" stroke="#000" stroke-width="1.45" stroke-linecap="butt"/>
<line x1="407.78" y1="739.20" x2="407.78" y2="743.20" stroke="#000" stroke-width="1.45" stroke-linecap="butt"/>
<line x1="410.10" y1="739.20" x2="410.10" y2="743.20" stroke="#000" stroke-width="1.45" stroke-linecap="butt"/>
<line x1="412.14" y1="739.20" x2="412.14" y2="743.20" stroke="#000" stroke-width="1.45" stroke-linecap="butt"/>
<line x1="413.98" y1="739.20" x2="413.98" y2="745.20" stroke="#000" stroke-width="1.45" stroke-linecap="butt"/>
<line x1="426.02" y1="739.20" x2="426.02" y2="743.20" stroke="#000" stroke-width="1.45" stroke-linecap="butt"/>
<line x1="433.07" y1="739.20" x2="433.07" y2="743.20" stroke="#000" stroke-width="1.45" stroke-linecap="butt"/>
<line x1="438.07" y1="739.20" x2="438.07" y2="743.20" stroke="#000" stroke-width="1.45" stroke-linecap="butt"/>
<line x1="441.95" y1="739.20" x2="441.95" y2="743.20" stroke="#000" stroke-width="1.45" stroke-linecap="butt"/>
<line x1="445.12" y1="739.20" x2="445.12" y2="743.20" stroke="#000" stroke-width="1.45" stroke-linecap="butt"/>
<line x1="447.80" y1="739.20" x2="447.80" y2="743.20" stroke="#000" stroke-width="1.45" stroke-linecap="butt"/>
<line x1="450.12" y1="739.20" x2="450.12" y2="743.20" stroke="#000" stroke-width="1.45" stroke-linecap="butt"/>
<line x1="452.17" y1="739.20" x2="452.17" y2="743.20" stroke="#000" stroke-width="1.45" stroke-linecap="butt"/>
<line x1="454.00" y1="739.20" x2="454.00" y2="745.20" stroke="#000" stroke-width="1.2" stroke-linecap="butt"/>
<line x1="358.90" y1="701.80" x2="454.00" y2="701.80" stroke="#000" stroke-width="1.3" stroke-linecap="butt"/>
<line x1="358.90" y1="692.30" x2="358.90" y2="710.30" stroke="#000" stroke-width="1.3" stroke-linecap="butt"/>
<path d="M63.68,841.12 L64.41,882.29 L64.85,844.06 L65.29,879.35 L65.74,845.53 L66.18,867.59 L66.62,844.06 L67.06,866.12 L67.65,888.18 L68.24,852.88 L68.82,866.12 L69.41,848.47 L70.00,866.12 L70.59,847.00 L71.18,854.35 L71.76,852.88 L72.50,841.12 L73.24,838.18 L73.97,836.71 L74.71,826.41 L75.44,833.76 L76.18,826.41 L76.91,830.82 L77.65,824.94 L78.38,826.41 L79.12,821.26 L79.85,823.47 L80.59,824.94 L81.32,827.88 L82.06,833.76 L82.79,841.12 L83.53,855.82 L83.97,847.00 L84.56,842.59 L85.29,826.41 L85.88,845.53 L86.47,814.65 L87.06,847.00 L87.65,848.47 L88.24,882.29 L88.82,858.76 L89.41,867.59 L90.15,870.53 L90.88,869.06 L91.62,880.82 L92.35,882.29 L93.09,883.76 L93.82,886.71 L94.56,894.06 L95.29,910.24 L96.03,894.06 L96.76,899.94 L97.50,922.00 L98.24,894.06 L98.97,902.88 L99.71,911.71 L101.18,914.65 L102.65,923.47 L103.38,927.88 L104.12,924.94 L104.85,923.47 L105.59,926.41 L107.06,923.47 L107.79,922.00 L108.53,926.41 L109.26,916.12 L110.00,929.35 L110.74,932.29 L111.11,928.17 L112.21,922.64 L113.32,925.96 L114.42,923.75 L115.53,928.17 L116.63,927.07 L117.74,932.59 L118.85,927.07 L119.95,928.17 L121.06,931.49 L122.16,927.07 L123.27,932.59 L124.37,927.73 L125.48,932.59 L126.59,925.96 L127.69,938.12 L128.80,933.70 L129.90,938.12 L131.01,934.81 L132.11,938.12 L133.22,935.91 L134.33,939.23 L136.54,939.23 L138.75,939.23 L140.96,935.91 L142.07,933.70 L143.17,939.23 L149.81,939.23 L150.91,935.91 L152.02,933.70 L153.12,939.23 L158.65,938.12 L159.76,930.38 L160.86,927.07 L161.97,932.59 L163.07,938.12 L167.50,939.23 L168.60,934.81 L169.71,938.12 L170.81,934.81 L171.92,938.12 L173.03,933.70 L174.13,939.23 L176.34,935.91 L178.55,933.70 L179.66,937.02 L180.77,933.70 L182.98,938.12 L184.08,933.70 L186.29,928.17 L187.40,925.96 L188.51,923.75 L189.61,924.85 L190.72,930.38 L191.82,928.17 L192.93,924.85 L194.03,921.54 L195.14,918.22 L196.25,916.01 L197.35,920.43 L198.46,923.75 L199.56,921.54 L200.67,928.17 L201.77,930.38 L202.88,933.70 L203.98,932.59 L205.09,934.81 L206.20,938.12 L207.30,939.23 L209.51,939.23" fill="none" stroke="#000" stroke-width="1.3" stroke-linejoin="miter"/>
<line x1="63.00" y1="799.60" x2="223.20" y2="799.60" stroke="#000" stroke-width="1.5" stroke-linecap="butt"/>
<line x1="223.20" y1="799.60" x2="223.20" y2="940.20" stroke="#000" stroke-width="1.6" stroke-linecap="butt"/>
<line x1="63.00" y1="940.20" x2="223.20" y2="940.20" stroke="#000" stroke-width="1.8" stroke-linecap="butt"/>
<line x1="63.00" y1="798.90" x2="63.00" y2="941.20" stroke="#000" stroke-width="2.6" stroke-linecap="butt"/>
<line x1="56.10" y1="940.20" x2="63.00" y2="940.20" stroke="#000" stroke-width="1.2" stroke-linecap="butt"/>
<line x1="58.50" y1="934.58" x2="63.00" y2="934.58" stroke="#000" stroke-width="1.2" stroke-linecap="butt"/>
<line x1="58.50" y1="928.95" x2="63.00" y2="928.95" stroke="#000" stroke-width="1.2" stroke-linecap="butt"/>
<line x1="58.50" y1="923.33" x2="63.00" y2="923.33" stroke="#000" stroke-width="1.2" stroke-linecap="butt"/>
<line x1="58.50" y1="917.70" x2="63.00" y2="917.70" stroke="#000" stroke-width="1.2" stroke-linecap="butt"/>
<line x1="56.10" y1="912.08" x2="63.00" y2="912.08" stroke="#000" stroke-width="1.2" stroke-linecap="butt"/>
<line x1="58.50" y1="906.46" x2="63.00" y2="906.46" stroke="#000" stroke-width="1.2" stroke-linecap="butt"/>
<line x1="58.50" y1="900.83" x2="63.00" y2="900.83" stroke="#000" stroke-width="1.2" stroke-linecap="butt"/>
<line x1="58.50" y1="895.21" x2="63.00" y2="895.21" stroke="#000" stroke-width="1.2" stroke-linecap="butt"/>
<line x1="58.50" y1="889.58" x2="63.00" y2="889.58" stroke="#000" stroke-width="1.2" stroke-linecap="butt"/>
<line x1="56.10" y1="883.96" x2="63.00" y2="883.96" stroke="#000" stroke-width="1.2" stroke-linecap="butt"/>
<line x1="58.50" y1="878.34" x2="63.00" y2="878.34" stroke="#000" stroke-width="1.2" stroke-linecap="butt"/>
<line x1="58.50" y1="872.71" x2="63.00" y2="872.71" stroke="#000" stroke-width="1.2" stroke-linecap="butt"/>
<line x1="58.50" y1="867.09" x2="63.00" y2="867.09" stroke="#000" stroke-width="1.2" stroke-linecap="butt"/>
<line x1="58.50" y1="861.46" x2="63.00" y2="861.46" stroke="#000" stroke-width="1.2" stroke-linecap="butt"/>
<line x1="56.10" y1="855.84" x2="63.00" y2="855.84" stroke="#000" stroke-width="1.2" stroke-linecap="butt"/>
<line x1="58.50" y1="850.22" x2="63.00" y2="850.22" stroke="#000" stroke-width="1.2" stroke-linecap="butt"/>
<line x1="58.50" y1="844.59" x2="63.00" y2="844.59" stroke="#000" stroke-width="1.2" stroke-linecap="butt"/>
<line x1="58.50" y1="838.97" x2="63.00" y2="838.97" stroke="#000" stroke-width="1.2" stroke-linecap="butt"/>
<line x1="58.50" y1="833.34" x2="63.00" y2="833.34" stroke="#000" stroke-width="1.2" stroke-linecap="butt"/>
<line x1="56.10" y1="827.72" x2="63.00" y2="827.72" stroke="#000" stroke-width="1.2" stroke-linecap="butt"/>
<line x1="58.50" y1="822.10" x2="63.00" y2="822.10" stroke="#000" stroke-width="1.2" stroke-linecap="butt"/>
<line x1="58.50" y1="816.47" x2="63.00" y2="816.47" stroke="#000" stroke-width="1.2" stroke-linecap="butt"/>
<line x1="58.50" y1="810.85" x2="63.00" y2="810.85" stroke="#000" stroke-width="1.2" stroke-linecap="butt"/>
<line x1="58.50" y1="805.22" x2="63.00" y2="805.22" stroke="#000" stroke-width="1.2" stroke-linecap="butt"/>
<line x1="56.10" y1="799.60" x2="63.00" y2="799.60" stroke="#000" stroke-width="1.2" stroke-linecap="butt"/>
<line x1="63.00" y1="940.20" x2="63.00" y2="946.20" stroke="#000" stroke-width="1.45" stroke-linecap="butt"/>
<line x1="75.06" y1="940.20" x2="75.06" y2="944.20" stroke="#000" stroke-width="1.45" stroke-linecap="butt"/>
<line x1="82.11" y1="940.20" x2="82.11" y2="944.20" stroke="#000" stroke-width="1.45" stroke-linecap="butt"/>
<line x1="87.11" y1="940.20" x2="87.11" y2="944.20" stroke="#000" stroke-width="1.45" stroke-linecap="butt"/>
<line x1="90.99" y1="940.20" x2="90.99" y2="944.20" stroke="#000" stroke-width="1.45" stroke-linecap="butt"/>
<line x1="94.16" y1="940.20" x2="94.16" y2="944.20" stroke="#000" stroke-width="1.45" stroke-linecap="butt"/>
<line x1="96.85" y1="940.20" x2="96.85" y2="944.20" stroke="#000" stroke-width="1.45" stroke-linecap="butt"/>
<line x1="99.17" y1="940.20" x2="99.17" y2="944.20" stroke="#000" stroke-width="1.45" stroke-linecap="butt"/>
<line x1="101.22" y1="940.20" x2="101.22" y2="944.20" stroke="#000" stroke-width="1.45" stroke-linecap="butt"/>
<line x1="103.05" y1="940.20" x2="103.05" y2="946.20" stroke="#000" stroke-width="1.45" stroke-linecap="butt"/>
<line x1="115.11" y1="940.20" x2="115.11" y2="944.20" stroke="#000" stroke-width="1.45" stroke-linecap="butt"/>
<line x1="122.16" y1="940.20" x2="122.16" y2="944.20" stroke="#000" stroke-width="1.45" stroke-linecap="butt"/>
<line x1="127.16" y1="940.20" x2="127.16" y2="944.20" stroke="#000" stroke-width="1.45" stroke-linecap="butt"/>
<line x1="131.04" y1="940.20" x2="131.04" y2="944.20" stroke="#000" stroke-width="1.45" stroke-linecap="butt"/>
<line x1="134.21" y1="940.20" x2="134.21" y2="944.20" stroke="#000" stroke-width="1.45" stroke-linecap="butt"/>
<line x1="136.90" y1="940.20" x2="136.90" y2="944.20" stroke="#000" stroke-width="1.45" stroke-linecap="butt"/>
<line x1="139.22" y1="940.20" x2="139.22" y2="944.20" stroke="#000" stroke-width="1.45" stroke-linecap="butt"/>
<line x1="141.27" y1="940.20" x2="141.27" y2="944.20" stroke="#000" stroke-width="1.45" stroke-linecap="butt"/>
<line x1="143.10" y1="940.20" x2="143.10" y2="946.20" stroke="#000" stroke-width="1.45" stroke-linecap="butt"/>
<line x1="155.16" y1="940.20" x2="155.16" y2="944.20" stroke="#000" stroke-width="1.45" stroke-linecap="butt"/>
<line x1="162.21" y1="940.20" x2="162.21" y2="944.20" stroke="#000" stroke-width="1.45" stroke-linecap="butt"/>
<line x1="167.21" y1="940.20" x2="167.21" y2="944.20" stroke="#000" stroke-width="1.45" stroke-linecap="butt"/>
<line x1="171.09" y1="940.20" x2="171.09" y2="944.20" stroke="#000" stroke-width="1.45" stroke-linecap="butt"/>
<line x1="174.26" y1="940.20" x2="174.26" y2="944.20" stroke="#000" stroke-width="1.45" stroke-linecap="butt"/>
<line x1="176.95" y1="940.20" x2="176.95" y2="944.20" stroke="#000" stroke-width="1.45" stroke-linecap="butt"/>
<line x1="179.27" y1="940.20" x2="179.27" y2="944.20" stroke="#000" stroke-width="1.45" stroke-linecap="butt"/>
<line x1="181.32" y1="940.20" x2="181.32" y2="944.20" stroke="#000" stroke-width="1.45" stroke-linecap="butt"/>
<line x1="183.15" y1="940.20" x2="183.15" y2="946.20" stroke="#000" stroke-width="1.45" stroke-linecap="butt"/>
<line x1="195.21" y1="940.20" x2="195.21" y2="944.20" stroke="#000" stroke-width="1.45" stroke-linecap="butt"/>
<line x1="202.26" y1="940.20" x2="202.26" y2="944.20" stroke="#000" stroke-width="1.45" stroke-linecap="butt"/>
<line x1="207.26" y1="940.20" x2="207.26" y2="944.20" stroke="#000" stroke-width="1.45" stroke-linecap="butt"/>
<line x1="211.14" y1="940.20" x2="211.14" y2="944.20" stroke="#000" stroke-width="1.45" stroke-linecap="butt"/>
<line x1="214.31" y1="940.20" x2="214.31" y2="944.20" stroke="#000" stroke-width="1.45" stroke-linecap="butt"/>
<line x1="217.00" y1="940.20" x2="217.00" y2="944.20" stroke="#000" stroke-width="1.45" stroke-linecap="butt"/>
<line x1="219.32" y1="940.20" x2="219.32" y2="944.20" stroke="#000" stroke-width="1.45" stroke-linecap="butt"/>
<line x1="221.37" y1="940.20" x2="221.37" y2="944.20" stroke="#000" stroke-width="1.45" stroke-linecap="butt"/>
<line x1="223.20" y1="940.20" x2="223.20" y2="946.20" stroke="#000" stroke-width="1.2" stroke-linecap="butt"/>
<line x1="128.50" y1="900.40" x2="223.20" y2="900.40" stroke="#000" stroke-width="1.3" stroke-linecap="butt"/>
<line x1="128.50" y1="890.90" x2="128.50" y2="908.90" stroke="#000" stroke-width="1.3" stroke-linecap="butt"/>
<path d="M294.41,800.68 L295.15,820.53 L295.88,829.35 L296.62,826.41 L297.35,810.24 L298.09,805.82 L298.82,804.35 L299.56,802.88 L300.29,801.41 L301.03,800.68 L313.53,800.68 L314.26,805.82 L315.00,807.29 L315.74,802.88 L316.47,801.41 L317.21,800.68 L317.94,804.35 L318.68,808.76 L319.41,813.18 L320.15,819.06 L320.88,826.41 L321.62,835.24 L322.35,845.53 L323.09,852.88 L323.82,858.76 L324.56,866.12 L325.29,873.47 L326.03,882.29 L326.76,891.12 L327.50,899.94 L328.24,907.29 L329.71,914.65 L331.18,920.53 L331.91,922.00 L332.65,921.26 L334.12,923.47 L334.85,922.74 L335.59,926.41 L336.32,929.35 L337.06,933.76 L337.79,935.24 L338.53,934.50 L340.00,935.97 L342.94,936.41 L344.41,937.44 L344.62,933.85 L346.92,936.16 L349.23,933.85 L351.54,937.31 L353.85,934.54 L356.16,937.31 L358.46,935.00 L360.77,937.31 L363.08,935.00 L365.39,935.00 L367.69,937.31 L370.00,935.46 L372.31,936.16 L374.62,937.31 L376.93,935.46 L379.23,937.31 L381.54,935.46 L383.85,937.31 L386.16,936.16 L388.47,937.31 L390.77,935.46 L393.08,936.85 L395.39,937.31 L397.70,938.93" fill="none" stroke="#000" stroke-width="1.3" stroke-linejoin="miter"/>
<line x1="293.10" y1="800.20" x2="453.00" y2="800.20" stroke="#000" stroke-width="1.5" stroke-linecap="butt"/>
<line x1="453.00" y1="800.20" x2="453.00" y2="940.40" stroke="#000" stroke-width="1.6" stroke-linecap="butt"/>
<line x1="293.10" y1="940.40" x2="453.00" y2="940.40" stroke="#000" stroke-width="1.8" stroke-linecap="butt"/>
<line x1="293.10" y1="799.50" x2="293.10" y2="941.40" stroke="#000" stroke-width="2.6" stroke-linecap="butt"/>
<line x1="286.20" y1="940.40" x2="293.10" y2="940.40" stroke="#000" stroke-width="1.2" stroke-linecap="butt"/>
<line x1="288.60" y1="934.79" x2="293.10" y2="934.79" stroke="#000" stroke-width="1.2" stroke-linecap="butt"/>
<line x1="288.60" y1="929.18" x2="293.10" y2="929.18" stroke="#000" stroke-width="1.2" stroke-linecap="butt"/>
<line x1="288.60" y1="923.58" x2="293.10" y2="923.58" stroke="#000" stroke-width="1.2" stroke-linecap="butt"/>
<line x1="288.60" y1="917.97" x2="293.10" y2="917.97" stroke="#000" stroke-width="1.2" stroke-linecap="butt"/>
<line x1="286.20" y1="912.36" x2="293.10" y2="912.36" stroke="#000" stroke-width="1.2" stroke-linecap="butt"/>
<line x1="288.60" y1="906.75" x2="293.10" y2="906.75" stroke="#000" stroke-width="1.2" stroke-linecap="butt"/>
<line x1="288.60" y1="901.14" x2="293.10" y2="901.14" stroke="#000" stroke-width="1.2" stroke-linecap="butt"/>
<line x1="288.60" y1="895.54" x2="293.10" y2="895.54" stroke="#000" stroke-width="1.2" stroke-linecap="butt"/>
<line x1="288.60" y1="889.93" x2="293.10" y2="889.93" stroke="#000" stroke-width="1.2" stroke-linecap="butt"/>
<line x1="286.20" y1="884.32" x2="293.10" y2="884.32" stroke="#000" stroke-width="1.2" stroke-linecap="butt"/>
<line x1="288.60" y1="878.71" x2="293.10" y2="878.71" stroke="#000" stroke-width="1.2" stroke-linecap="butt"/>
<line x1="288.60" y1="873.10" x2="293.10" y2="873.10" stroke="#000" stroke-width="1.2" stroke-linecap="butt"/>
<line x1="288.60" y1="867.50" x2="293.10" y2="867.50" stroke="#000" stroke-width="1.2" stroke-linecap="butt"/>
<line x1="288.60" y1="861.89" x2="293.10" y2="861.89" stroke="#000" stroke-width="1.2" stroke-linecap="butt"/>
<line x1="286.20" y1="856.28" x2="293.10" y2="856.28" stroke="#000" stroke-width="1.2" stroke-linecap="butt"/>
<line x1="288.60" y1="850.67" x2="293.10" y2="850.67" stroke="#000" stroke-width="1.2" stroke-linecap="butt"/>
<line x1="288.60" y1="845.06" x2="293.10" y2="845.06" stroke="#000" stroke-width="1.2" stroke-linecap="butt"/>
<line x1="288.60" y1="839.46" x2="293.10" y2="839.46" stroke="#000" stroke-width="1.2" stroke-linecap="butt"/>
<line x1="288.60" y1="833.85" x2="293.10" y2="833.85" stroke="#000" stroke-width="1.2" stroke-linecap="butt"/>
<line x1="286.20" y1="828.24" x2="293.10" y2="828.24" stroke="#000" stroke-width="1.2" stroke-linecap="butt"/>
<line x1="288.60" y1="822.63" x2="293.10" y2="822.63" stroke="#000" stroke-width="1.2" stroke-linecap="butt"/>
<line x1="288.60" y1="817.02" x2="293.10" y2="817.02" stroke="#000" stroke-width="1.2" stroke-linecap="butt"/>
<line x1="288.60" y1="811.42" x2="293.10" y2="811.42" stroke="#000" stroke-width="1.2" stroke-linecap="butt"/>
<line x1="288.60" y1="805.81" x2="293.10" y2="805.81" stroke="#000" stroke-width="1.2" stroke-linecap="butt"/>
<line x1="286.20" y1="800.20" x2="293.10" y2="800.20" stroke="#000" stroke-width="1.2" stroke-linecap="butt"/>
<line x1="293.10" y1="940.40" x2="293.10" y2="946.40" stroke="#000" stroke-width="1.45" stroke-linecap="butt"/>
<line x1="305.13" y1="940.40" x2="305.13" y2="944.40" stroke="#000" stroke-width="1.45" stroke-linecap="butt"/>
<line x1="312.17" y1="940.40" x2="312.17" y2="944.40" stroke="#000" stroke-width="1.45" stroke-linecap="butt"/>
<line x1="317.17" y1="940.40" x2="317.17" y2="944.40" stroke="#000" stroke-width="1.45" stroke-linecap="butt"/>
<line x1="321.04" y1="940.40" x2="321.04" y2="944.40" stroke="#000" stroke-width="1.45" stroke-linecap="butt"/>
<line x1="324.21" y1="940.40" x2="324.21" y2="944.40" stroke="#000" stroke-width="1.45" stroke-linecap="butt"/>
<line x1="326.88" y1="940.40" x2="326.88" y2="944.40" stroke="#000" stroke-width="1.45" stroke-linecap="butt"/>
<line x1="329.20" y1="940.40" x2="329.20" y2="944.40" stroke="#000" stroke-width="1.45" stroke-linecap="butt"/>
<line x1="331.25" y1="940.40" x2="331.25" y2="944.40" stroke="#000" stroke-width="1.45" stroke-linecap="butt"/>
<line x1="333.08" y1="940.40" x2="333.08" y2="946.40" stroke="#000" stroke-width="1.45" stroke-linecap="butt"/>
<line x1="345.11" y1="940.40" x2="345.11" y2="944.40" stroke="#000" stroke-width="1.45" stroke-linecap="butt"/>
<line x1="352.15" y1="940.40" x2="352.15" y2="944.40" stroke="#000" stroke-width="1.45" stroke-linecap="butt"/>
<line x1="357.14" y1="940.40" x2="357.14" y2="944.40" stroke="#000" stroke-width="1.45" stroke-linecap="butt"/>
<line x1="361.02" y1="940.40" x2="361.02" y2="944.40" stroke="#000" stroke-width="1.45" stroke-linecap="butt"/>
<line x1="364.18" y1="940.40" x2="364.18" y2="944.40" stroke="#000" stroke-width="1.45" stroke-linecap="butt"/>
<line x1="366.86" y1="940.40" x2="366.86" y2="944.40" stroke="#000" stroke-width="1.45" stroke-linecap="butt"/>
<line x1="369.18" y1="940.40" x2="369.18" y2="944.40" stroke="#000" stroke-width="1.45" stroke-linecap="butt"/>
<line x1="371.22" y1="940.40" x2="371.22" y2="944.40" stroke="#000" stroke-width="1.45" stroke-linecap="butt"/>
<line x1="373.05" y1="940.40" x2="373.05" y2="946.40" stroke="#000" stroke-width="1.45" stroke-linecap="butt"/>
<line x1="385.08" y1="940.40" x2="385.08" y2="944.40" stroke="#000" stroke-width="1.45" stroke-linecap="butt"/>
<line x1="392.12" y1="940.40" x2="392.12" y2="944.40" stroke="#000" stroke-width="1.45" stroke-linecap="butt"/>
<line x1="397.12" y1="940.40" x2="397.12" y2="944.40" stroke="#000" stroke-width="1.45" stroke-linecap="butt"/>
<line x1="400.99" y1="940.40" x2="400.99" y2="944.40" stroke="#000" stroke-width="1.45" stroke-linecap="butt"/>
<line x1="404.16" y1="940.40" x2="404.16" y2="944.40" stroke="#000" stroke-width="1.45" stroke-linecap="butt"/>
<line x1="406.83" y1="940.40" x2="406.83" y2="944.40" stroke="#000" stroke-width="1.45" stroke-linecap="butt"/>
<line x1="409.15" y1="940.40" x2="409.15" y2="944.40" stroke="#000" stroke-width="1.45" stroke-linecap="butt"/>
<line x1="411.20" y1="940.40" x2="411.20" y2="944.40" stroke="#000" stroke-width="1.45" stroke-linecap="butt"/>
<line x1="413.02" y1="940.40" x2="413.02" y2="946.40" stroke="#000" stroke-width="1.45" stroke-linecap="butt"/>
<line x1="425.06" y1="940.40" x2="425.06" y2="944.40" stroke="#000" stroke-width="1.45" stroke-linecap="butt"/>
<line x1="432.10" y1="940.40" x2="432.10" y2="944.40" stroke="#000" stroke-width="1.45" stroke-linecap="butt"/>
<line x1="437.09" y1="940.40" x2="437.09" y2="944.40" stroke="#000" stroke-width="1.45" stroke-linecap="butt"/>
<line x1="440.97" y1="940.40" x2="440.97" y2="944.40" stroke="#000" stroke-width="1.45" stroke-linecap="butt"/>
<line x1="444.13" y1="940.40" x2="444.13" y2="944.40" stroke="#000" stroke-width="1.45" stroke-linecap="butt"/>
<line x1="446.81" y1="940.40" x2="446.81" y2="944.40" stroke="#000" stroke-width="1.45" stroke-linecap="butt"/>
<line x1="449.13" y1="940.40" x2="449.13" y2="944.40" stroke="#000" stroke-width="1.45" stroke-linecap="butt"/>
<line x1="451.17" y1="940.40" x2="451.17" y2="944.40" stroke="#000" stroke-width="1.45" stroke-linecap="butt"/>
<line x1="453.00" y1="940.40" x2="453.00" y2="946.40" stroke="#000" stroke-width="1.2" stroke-linecap="butt"/>
<line x1="357.90" y1="903.20" x2="453.00" y2="903.20" stroke="#000" stroke-width="1.3" stroke-linecap="butt"/>
<line x1="357.90" y1="893.70" x2="357.90" y2="911.70" stroke="#000" stroke-width="1.3" stroke-linecap="butt"/>
<g transform="translate(0.177,30.224) scale(0.40758,0.42353)" fill="#000" stroke="#000" stroke-width="0.96" stroke-linejoin="round"><text x="0" y="0" font-size="100" font-weight="bold">A</text></g>
<g transform="translate(94.258,41.442) scale(0.16305,0.14838)" fill="#000" stroke="#000" stroke-width="1.41" stroke-linejoin="round"><text x="0" y="0" font-size="100">alone</text></g>
<g transform="translate(32.110,100.251) scale(0.15917,0.13892)" fill="#000" stroke="#000" stroke-width="1.48" stroke-linejoin="round"><text x="0" y="0" font-size="100">with anti-host T</text></g>
<g transform="translate(63.163,121.056) scale(0.16187,0.13351)" fill="#000" stroke="#000" stroke-width="1.50" stroke-linejoin="round"><text x="0" y="0" font-size="100">cells</text></g>
<g transform="translate(22.410,170.711) scale(0.16219,0.14660)" fill="#000" stroke="#000" stroke-width="1.43" stroke-linejoin="round"><text x="0" y="0" font-size="100">with syngeneic T</text></g>
<g transform="translate(60.665,191.048) scale(0.16135,0.14162)" fill="#000" stroke="#000" stroke-width="1.46" stroke-linejoin="round"><text x="0" y="0" font-size="100">cells</text></g>
<g transform="translate(147.712,236.062) scale(0.12458,0.12789)" fill="#000" stroke="#000" stroke-width="1.74" stroke-linejoin="round"><text x="0" y="0" font-size="100">0</text></g>
<g transform="translate(234.842,236.190) scale(0.16077,0.12870)" fill="#000" stroke="#000" stroke-width="1.53" stroke-linejoin="round"><text x="0" y="0" font-size="100">&#8199;</text><path transform="translate(0.00,0)" d="M37.26,-0.00 L28.47,-0.00 L28.47,-53.61 Q25.29,-50.71 20.12,-47.81 Q14.94,-44.92 10.84,-43.47 L10.84,-51.60 Q18.21,-54.92 23.73,-59.64 Q29.25,-64.36 31.54,-68.80 L37.26,-68.80 Z"/></g>
<g transform="translate(320.895,236.190) scale(0.14304,0.12686)" fill="#000" stroke="#000" stroke-width="1.63" stroke-linejoin="round"><text x="0" y="0" font-size="100">2</text></g>
<g transform="translate(408.459,236.361) scale(0.13787,0.12930)" fill="#000" stroke="#000" stroke-width="1.65" stroke-linejoin="round"><text x="0" y="0" font-size="100">3</text></g>
<g transform="translate(494.613,236.318) scale(0.14863,0.12765)" fill="#000" stroke="#000" stroke-width="1.60" stroke-linejoin="round"><text x="0" y="0" font-size="100">4</text></g>
<g transform="translate(285.347,255.462) scale(0.16337,0.14468)" fill="#000" stroke="#000" stroke-width="2.60" stroke-linejoin="round"><text x="0" y="0" font-size="100" font-weight="bold">Cells ( x&#8199;0</text><path transform="translate(383.48,0)" d="M39.11,-0.00 L25.39,-0.00 L25.39,-49.31 Q17.87,-42.58 7.62,-39.35 L7.62,-51.23 Q12.99,-52.91 19.29,-57.58 Q25.59,-62.26 27.93,-68.52 L39.11,-68.52 Z"/></g>
<g transform="translate(366.408,249.493) scale(0.07292,0.10704)" fill="#000" stroke="#000" stroke-width="4.53" stroke-linejoin="round"><text x="0" y="0" font-size="100" font-weight="bold">6</text></g>
<g transform="translate(371.500,255.462) scale(0.12500,0.14468)" fill="#000" stroke="#000" stroke-width="2.97" stroke-linejoin="round"><text x="0" y="0" font-size="100" font-weight="bold">)</text></g>
<g transform="translate(421.795,99.815) scale(0.20104,0.18451)" fill="#000" stroke="#000" stroke-width="2.08" stroke-linejoin="round"><text x="0" y="0" font-size="100">CD4</text></g>
<g transform="translate(422.108,140.515) scale(0.19843,0.18451)" fill="#000" stroke="#000" stroke-width="2.09" stroke-linejoin="round"><text x="0" y="0" font-size="100">CD8</text></g>
<g transform="translate(-1.131,361.900) scale(0.39016,0.42029)" fill="#000" stroke="#000" stroke-width="0.99" stroke-linejoin="round"><text x="0" y="0" font-size="100" font-weight="bold">B</text></g>
<g transform="translate(-0.206,606.268) scale(0.40154,0.43239)" fill="#000" stroke="#000" stroke-width="0.96" stroke-linejoin="round"><text x="0" y="0" font-size="100" font-weight="bold">C</text></g>
<g transform="translate(114.000,331.259) scale(0.25378,0.24054)" fill="#000" stroke="#000" stroke-width="1.62" stroke-linejoin="round"><text x="0" y="0" font-size="100">Alone</text></g>
<g transform="translate(297.250,317.358) scale(0.24984,0.24189)" fill="#000" stroke="#000" stroke-width="1.63" stroke-linejoin="round"><text x="0" y="0" font-size="100">With anti-host</text></g>
<g transform="translate(336.795,347.557) scale(0.25267,0.24324)" fill="#000" stroke="#000" stroke-width="1.61" stroke-linejoin="round"><text x="0" y="0" font-size="100">T cells</text></g>
<g transform="translate(468.763,434.345) scale(0.24740,0.25493)" fill="#000" stroke="#000" stroke-width="1.59" stroke-linejoin="round"><text x="0" y="0" font-size="100">CD4</text></g>
<g transform="translate(467.650,679.345) scale(0.25000,0.25493)" fill="#000" stroke="#000" stroke-width="1.58" stroke-linejoin="round"><text x="0" y="0" font-size="100">CD4</text></g>
<g transform="translate(467.036,878.146) scale(0.25288,0.25352)" fill="#000" stroke="#000" stroke-width="1.58" stroke-linejoin="round"><text x="0" y="0" font-size="100">CD8</text></g>
<g transform="translate(235.592,564.387) scale(0.21355,0.21286)" fill="#000" stroke="#000" stroke-width="1.88" stroke-linejoin="round"><text x="0" y="0" font-size="100">Fas</text></g>
<g transform="translate(217.463,1016.000) scale(0.21866,0.19565)" fill="#000" stroke="#000" stroke-width="1.93" stroke-linejoin="round"><text x="0" y="0" font-size="100">THY-&#8199;.&#8199;</text><path transform="translate(224.11,0)" d="M37.26,-0.00 L28.47,-0.00 L28.47,-53.61 Q25.29,-50.71 20.12,-47.81 Q14.94,-44.92 10.84,-43.47 L10.84,-51.60 Q18.21,-54.92 23.73,-59.64 Q29.25,-64.36 31.54,-68.80 L37.26,-68.80 Z"/><path transform="translate(307.52,0)" d="M37.26,-0.00 L28.47,-0.00 L28.47,-53.61 Q25.29,-50.71 20.12,-47.81 Q14.94,-44.92 10.84,-43.47 L10.84,-51.60 Q18.21,-54.92 23.73,-59.64 Q29.25,-64.36 31.54,-68.80 L37.26,-68.80 Z"/></g>
<g transform="translate(53.646,497.504) rotate(-90) scale(0.10729,0.12887)" fill="#000" stroke="#000" stroke-width="3.83" stroke-linejoin="round"><text x="0" y="0" font-size="100">0</text></g>
<g transform="translate(53.646,478.359) rotate(-90) scale(0.11823,0.12887)" fill="#000" stroke="#000" stroke-width="3.65" stroke-linejoin="round"><text x="0" y="0" font-size="100">&#8199;0</text><path transform="translate(0.00,0)" d="M37.26,-0.00 L28.47,-0.00 L28.47,-53.61 Q25.29,-50.71 20.12,-47.81 Q14.94,-44.92 10.84,-43.47 L10.84,-51.60 Q18.21,-54.92 23.73,-59.64 Q29.25,-64.36 31.54,-68.80 L37.26,-68.80 Z"/></g>
<g transform="translate(53.646,454.498) rotate(-90) scale(0.11127,0.12887)" fill="#000" stroke="#000" stroke-width="3.76" stroke-linejoin="round"><text x="0" y="0" font-size="100">20</text></g>
<g transform="translate(53.646,431.266) rotate(-90) scale(0.11019,0.12887)" fill="#000" stroke="#000" stroke-width="3.78" stroke-linejoin="round"><text x="0" y="0" font-size="100">30</text></g>
<g transform="translate(53.646,407.925) rotate(-90) scale(0.10810,0.12887)" fill="#000" stroke="#000" stroke-width="3.81" stroke-linejoin="round"><text x="0" y="0" font-size="100">40</text></g>
<g transform="translate(53.646,385.032) rotate(-90) scale(0.11019,0.12887)" fill="#000" stroke="#000" stroke-width="3.78" stroke-linejoin="round"><text x="0" y="0" font-size="100">50</text></g>
<g transform="translate(53.646,362.031) rotate(-90) scale(0.11127,0.12887)" fill="#000" stroke="#000" stroke-width="3.76" stroke-linejoin="round"><text x="0" y="0" font-size="100">60</text></g>
<g transform="translate(55.709,512.414) scale(0.11510,0.11056)" fill="#000" stroke="#000" stroke-width="4.88" stroke-linejoin="round"><text x="0" y="0" font-size="100">&#8199;0</text><path transform="translate(0.00,0)" d="M37.26,-0.00 L28.47,-0.00 L28.47,-53.61 Q25.29,-50.71 20.12,-47.81 Q14.94,-44.92 10.84,-43.47 L10.84,-51.60 Q18.21,-54.92 23.73,-59.64 Q29.25,-64.36 31.54,-68.80 L37.26,-68.80 Z"/></g>
<g transform="translate(69.237,506.413) scale(0.10937,0.11197)" fill="#000" stroke="#000" stroke-width="4.97" stroke-linejoin="round"><text x="0" y="0" font-size="100">0</text></g>
<g transform="translate(95.674,512.414) scale(0.11510,0.11056)" fill="#000" stroke="#000" stroke-width="4.88" stroke-linejoin="round"><text x="0" y="0" font-size="100">&#8199;0</text><path transform="translate(0.00,0)" d="M37.26,-0.00 L28.47,-0.00 L28.47,-53.61 Q25.29,-50.71 20.12,-47.81 Q14.94,-44.92 10.84,-43.47 L10.84,-51.60 Q18.21,-54.92 23.73,-59.64 Q29.25,-64.36 31.54,-68.80 L37.26,-68.80 Z"/></g>
<g transform="translate(110.344,506.525) scale(0.09968,0.11522)" fill="#000" stroke="#000" stroke-width="5.13" stroke-linejoin="round"><text x="0" y="0" font-size="100">&#8199;</text><path transform="translate(0.00,0)" d="M37.26,-0.00 L28.47,-0.00 L28.47,-53.61 Q25.29,-50.71 20.12,-47.81 Q14.94,-44.92 10.84,-43.47 L10.84,-51.60 Q18.21,-54.92 23.73,-59.64 Q29.25,-64.36 31.54,-68.80 L37.26,-68.80 Z"/></g>
<g transform="translate(135.639,512.414) scale(0.11510,0.11056)" fill="#000" stroke="#000" stroke-width="4.88" stroke-linejoin="round"><text x="0" y="0" font-size="100">&#8199;0</text><path transform="translate(0.00,0)" d="M37.26,-0.00 L28.47,-0.00 L28.47,-53.61 Q25.29,-50.71 20.12,-47.81 Q14.94,-44.92 10.84,-43.47 L10.84,-51.60 Q18.21,-54.92 23.73,-59.64 Q29.25,-64.36 31.54,-68.80 L37.26,-68.80 Z"/></g>
<g transform="translate(149.061,506.525) scale(0.10888,0.11357)" fill="#000" stroke="#000" stroke-width="4.95" stroke-linejoin="round"><text x="0" y="0" font-size="100">2</text></g>
<g transform="translate(175.604,512.414) scale(0.11510,0.11056)" fill="#000" stroke="#000" stroke-width="4.88" stroke-linejoin="round"><text x="0" y="0" font-size="100">&#8199;0</text><path transform="translate(0.00,0)" d="M37.26,-0.00 L28.47,-0.00 L28.47,-53.61 Q25.29,-50.71 20.12,-47.81 Q14.94,-44.92 10.84,-43.47 L10.84,-51.60 Q18.21,-54.92 23.73,-59.64 Q29.25,-64.36 31.54,-68.80 L37.26,-68.80 Z"/></g>
<g transform="translate(189.133,506.413) scale(0.10913,0.11197)" fill="#000" stroke="#000" stroke-width="4.98" stroke-linejoin="round"><text x="0" y="0" font-size="100">3</text></g>
<g transform="translate(215.569,512.414) scale(0.11510,0.11056)" fill="#000" stroke="#000" stroke-width="4.88" stroke-linejoin="round"><text x="0" y="0" font-size="100">&#8199;0</text><path transform="translate(0.00,0)" d="M37.26,-0.00 L28.47,-0.00 L28.47,-53.61 Q25.29,-50.71 20.12,-47.81 Q14.94,-44.92 10.84,-43.47 L10.84,-51.60 Q18.21,-54.92 23.73,-59.64 Q29.25,-64.36 31.54,-68.80 L37.26,-68.80 Z"/></g>
<g transform="translate(229.315,506.642) scale(0.11005,0.11691)" fill="#000" stroke="#000" stroke-width="4.85" stroke-linejoin="round"><text x="0" y="0" font-size="100">4</text></g>
<g transform="translate(39.670,445.755) rotate(-90) scale(0.11104,0.12958)" fill="#000" stroke="#000" stroke-width="3.33" stroke-linejoin="round"><text x="0" y="0" font-size="100">Counts</text></g>
<g transform="translate(123.468,521.607) scale(0.11884,0.09296)" fill="#000" stroke="#000" stroke-width="3.81" stroke-linejoin="round"><text x="0" y="0" font-size="100" font-weight="bold">FAS PE</text></g>
<g transform="translate(149.511,383.388) scale(0.17052,0.13732)" fill="#000" stroke="#000" stroke-width="0.98" stroke-linejoin="round"><text x="0" y="0" font-size="100" letter-spacing="5">MFI 35</text></g>
<g transform="translate(284.046,498.304) rotate(-90) scale(0.10729,0.12887)" fill="#000" stroke="#000" stroke-width="3.83" stroke-linejoin="round"><text x="0" y="0" font-size="100">0</text></g>
<g transform="translate(284.044,475.347) rotate(-90) scale(0.10957,0.13071)" fill="#000" stroke="#000" stroke-width="3.76" stroke-linejoin="round"><text x="0" y="0" font-size="100">5</text></g>
<g transform="translate(284.046,456.342) rotate(-90) scale(0.11823,0.12887)" fill="#000" stroke="#000" stroke-width="3.65" stroke-linejoin="round"><text x="0" y="0" font-size="100">&#8199;0</text><path transform="translate(0.00,0)" d="M37.26,-0.00 L28.47,-0.00 L28.47,-53.61 Q25.29,-50.71 20.12,-47.81 Q14.94,-44.92 10.84,-43.47 L10.84,-51.60 Q18.21,-54.92 23.73,-59.64 Q29.25,-64.36 31.54,-68.80 L37.26,-68.80 Z"/></g>
<g transform="translate(284.044,433.376) rotate(-90) scale(0.11823,0.13071)" fill="#000" stroke="#000" stroke-width="3.62" stroke-linejoin="round"><text x="0" y="0" font-size="100">&#8199;5</text><path transform="translate(0.00,0)" d="M37.26,-0.00 L28.47,-0.00 L28.47,-53.61 Q25.29,-50.71 20.12,-47.81 Q14.94,-44.92 10.84,-43.47 L10.84,-51.60 Q18.21,-54.92 23.73,-59.64 Q29.25,-64.36 31.54,-68.80 L37.26,-68.80 Z"/></g>
<g transform="translate(284.046,409.665) rotate(-90) scale(0.11127,0.12887)" fill="#000" stroke="#000" stroke-width="3.76" stroke-linejoin="round"><text x="0" y="0" font-size="100">20</text></g>
<g transform="translate(284.046,386.698) rotate(-90) scale(0.11127,0.12887)" fill="#000" stroke="#000" stroke-width="3.76" stroke-linejoin="round"><text x="0" y="0" font-size="100">25</text></g>
<g transform="translate(284.046,363.616) rotate(-90) scale(0.11019,0.12887)" fill="#000" stroke="#000" stroke-width="3.78" stroke-linejoin="round"><text x="0" y="0" font-size="100">30</text></g>
<g transform="translate(286.209,513.214) scale(0.11510,0.11056)" fill="#000" stroke="#000" stroke-width="4.88" stroke-linejoin="round"><text x="0" y="0" font-size="100">&#8199;0</text><path transform="translate(0.00,0)" d="M37.26,-0.00 L28.47,-0.00 L28.47,-53.61 Q25.29,-50.71 20.12,-47.81 Q14.94,-44.92 10.84,-43.47 L10.84,-51.60 Q18.21,-54.92 23.73,-59.64 Q29.25,-64.36 31.54,-68.80 L37.26,-68.80 Z"/></g>
<g transform="translate(299.738,507.213) scale(0.10938,0.11197)" fill="#000" stroke="#000" stroke-width="4.97" stroke-linejoin="round"><text x="0" y="0" font-size="100">0</text></g>
<g transform="translate(325.849,513.214) scale(0.11510,0.11056)" fill="#000" stroke="#000" stroke-width="4.88" stroke-linejoin="round"><text x="0" y="0" font-size="100">&#8199;0</text><path transform="translate(0.00,0)" d="M37.26,-0.00 L28.47,-0.00 L28.47,-53.61 Q25.29,-50.71 20.12,-47.81 Q14.94,-44.92 10.84,-43.47 L10.84,-51.60 Q18.21,-54.92 23.73,-59.64 Q29.25,-64.36 31.54,-68.80 L37.26,-68.80 Z"/></g>
<g transform="translate(340.519,507.325) scale(0.09968,0.11522)" fill="#000" stroke="#000" stroke-width="5.13" stroke-linejoin="round"><text x="0" y="0" font-size="100">&#8199;</text><path transform="translate(0.00,0)" d="M37.26,-0.00 L28.47,-0.00 L28.47,-53.61 Q25.29,-50.71 20.12,-47.81 Q14.94,-44.92 10.84,-43.47 L10.84,-51.60 Q18.21,-54.92 23.73,-59.64 Q29.25,-64.36 31.54,-68.80 L37.26,-68.80 Z"/></g>
<g transform="translate(365.489,513.214) scale(0.11510,0.11056)" fill="#000" stroke="#000" stroke-width="4.88" stroke-linejoin="round"><text x="0" y="0" font-size="100">&#8199;0</text><path transform="translate(0.00,0)" d="M37.26,-0.00 L28.47,-0.00 L28.47,-53.61 Q25.29,-50.71 20.12,-47.81 Q14.94,-44.92 10.84,-43.47 L10.84,-51.60 Q18.21,-54.92 23.73,-59.64 Q29.25,-64.36 31.54,-68.80 L37.26,-68.80 Z"/></g>
<g transform="translate(378.911,507.325) scale(0.10888,0.11357)" fill="#000" stroke="#000" stroke-width="4.95" stroke-linejoin="round"><text x="0" y="0" font-size="100">2</text></g>
<g transform="translate(405.129,513.214) scale(0.11510,0.11056)" fill="#000" stroke="#000" stroke-width="4.88" stroke-linejoin="round"><text x="0" y="0" font-size="100">&#8199;0</text><path transform="translate(0.00,0)" d="M37.26,-0.00 L28.47,-0.00 L28.47,-53.61 Q25.29,-50.71 20.12,-47.81 Q14.94,-44.92 10.84,-43.47 L10.84,-51.60 Q18.21,-54.92 23.73,-59.64 Q29.25,-64.36 31.54,-68.80 L37.26,-68.80 Z"/></g>
<g transform="translate(418.658,507.213) scale(0.10913,0.11197)" fill="#000" stroke="#000" stroke-width="4.98" stroke-linejoin="round"><text x="0" y="0" font-size="100">3</text></g>
<g transform="translate(444.769,513.214) scale(0.11510,0.11056)" fill="#000" stroke="#000" stroke-width="4.88" stroke-linejoin="round"><text x="0" y="0" font-size="100">&#8199;0</text><path transform="translate(0.00,0)" d="M37.26,-0.00 L28.47,-0.00 L28.47,-53.61 Q25.29,-50.71 20.12,-47.81 Q14.94,-44.92 10.84,-43.47 L10.84,-51.60 Q18.21,-54.92 23.73,-59.64 Q29.25,-64.36 31.54,-68.80 L37.26,-68.80 Z"/></g>
<g transform="translate(458.515,507.442) scale(0.11005,0.11691)" fill="#000" stroke="#000" stroke-width="4.85" stroke-linejoin="round"><text x="0" y="0" font-size="100">4</text></g>
<g transform="translate(269.670,446.557) rotate(-90) scale(0.11136,0.12958)" fill="#000" stroke="#000" stroke-width="3.33" stroke-linejoin="round"><text x="0" y="0" font-size="100">Counts</text></g>
<g transform="translate(353.968,521.607) scale(0.11884,0.09296)" fill="#000" stroke="#000" stroke-width="3.81" stroke-linejoin="round"><text x="0" y="0" font-size="100" font-weight="bold">FAS PE</text></g>
<g transform="translate(380.812,386.989) scale(0.17043,0.13592)" fill="#000" stroke="#000" stroke-width="0.99" stroke-linejoin="round"><text x="0" y="0" font-size="100" letter-spacing="5">MFI 69</text></g>
<g transform="translate(51.546,741.804) rotate(-90) scale(0.10729,0.12887)" fill="#000" stroke="#000" stroke-width="3.83" stroke-linejoin="round"><text x="0" y="0" font-size="100">0</text></g>
<g transform="translate(51.546,717.516) rotate(-90) scale(0.11823,0.12887)" fill="#000" stroke="#000" stroke-width="3.65" stroke-linejoin="round"><text x="0" y="0" font-size="100">&#8199;0</text><path transform="translate(0.00,0)" d="M37.26,-0.00 L28.47,-0.00 L28.47,-53.61 Q25.29,-50.71 20.12,-47.81 Q14.94,-44.92 10.84,-43.47 L10.84,-51.60 Q18.21,-54.92 23.73,-59.64 Q29.25,-64.36 31.54,-68.80 L37.26,-68.80 Z"/></g>
<g transform="translate(51.546,688.511) rotate(-90) scale(0.11127,0.12887)" fill="#000" stroke="#000" stroke-width="3.76" stroke-linejoin="round"><text x="0" y="0" font-size="100">20</text></g>
<g transform="translate(51.546,660.136) rotate(-90) scale(0.11019,0.12887)" fill="#000" stroke="#000" stroke-width="3.78" stroke-linejoin="round"><text x="0" y="0" font-size="100">30</text></g>
<g transform="translate(51.546,631.651) rotate(-90) scale(0.10810,0.12887)" fill="#000" stroke="#000" stroke-width="3.81" stroke-linejoin="round"><text x="0" y="0" font-size="100">40</text></g>
<g transform="translate(51.546,603.616) rotate(-90) scale(0.11019,0.12887)" fill="#000" stroke="#000" stroke-width="3.78" stroke-linejoin="round"><text x="0" y="0" font-size="100">50</text></g>
<g transform="translate(53.386,756.812) scale(0.11719,0.11338)" fill="#000" stroke="#000" stroke-width="3.04" stroke-linejoin="round"><text x="0" y="0" font-size="100">&#8199;0</text><path transform="translate(0.00,0)" d="M37.26,-0.00 L28.47,-0.00 L28.47,-53.61 Q25.29,-50.71 20.12,-47.81 Q14.94,-44.92 10.84,-43.47 L10.84,-51.60 Q18.21,-54.92 23.73,-59.64 Q29.25,-64.36 31.54,-68.80 L37.26,-68.80 Z"/></g>
<g transform="translate(66.921,750.810) scale(0.11354,0.11479)" fill="#000" stroke="#000" stroke-width="3.07" stroke-linejoin="round"><text x="0" y="0" font-size="100">0</text></g>
<g transform="translate(93.126,756.812) scale(0.11719,0.11338)" fill="#000" stroke="#000" stroke-width="3.04" stroke-linejoin="round"><text x="0" y="0" font-size="100">&#8199;0</text><path transform="translate(0.00,0)" d="M37.26,-0.00 L28.47,-0.00 L28.47,-53.61 Q25.29,-50.71 20.12,-47.81 Q14.94,-44.92 10.84,-43.47 L10.84,-51.60 Q18.21,-54.92 23.73,-59.64 Q29.25,-64.36 31.54,-68.80 L37.26,-68.80 Z"/></g>
<g transform="translate(107.734,750.925) scale(0.10737,0.11812)" fill="#000" stroke="#000" stroke-width="3.11" stroke-linejoin="round"><text x="0" y="0" font-size="100">&#8199;</text><path transform="translate(0.00,0)" d="M37.26,-0.00 L28.47,-0.00 L28.47,-53.61 Q25.29,-50.71 20.12,-47.81 Q14.94,-44.92 10.84,-43.47 L10.84,-51.60 Q18.21,-54.92 23.73,-59.64 Q29.25,-64.36 31.54,-68.80 L37.26,-68.80 Z"/></g>
<g transform="translate(132.866,756.812) scale(0.11719,0.11338)" fill="#000" stroke="#000" stroke-width="3.04" stroke-linejoin="round"><text x="0" y="0" font-size="100">&#8199;0</text><path transform="translate(0.00,0)" d="M37.26,-0.00 L28.47,-0.00 L28.47,-53.61 Q25.29,-50.71 20.12,-47.81 Q14.94,-44.92 10.84,-43.47 L10.84,-51.60 Q18.21,-54.92 23.73,-59.64 Q29.25,-64.36 31.54,-68.80 L37.26,-68.80 Z"/></g>
<g transform="translate(146.289,750.925) scale(0.11322,0.11643)" fill="#000" stroke="#000" stroke-width="3.05" stroke-linejoin="round"><text x="0" y="0" font-size="100">2</text></g>
<g transform="translate(172.606,756.812) scale(0.11719,0.11338)" fill="#000" stroke="#000" stroke-width="3.04" stroke-linejoin="round"><text x="0" y="0" font-size="100">&#8199;0</text><path transform="translate(0.00,0)" d="M37.26,-0.00 L28.47,-0.00 L28.47,-53.61 Q25.29,-50.71 20.12,-47.81 Q14.94,-44.92 10.84,-43.47 L10.84,-51.60 Q18.21,-54.92 23.73,-59.64 Q29.25,-64.36 31.54,-68.80 L37.26,-68.80 Z"/></g>
<g transform="translate(186.141,750.810) scale(0.11339,0.11479)" fill="#000" stroke="#000" stroke-width="3.07" stroke-linejoin="round"><text x="0" y="0" font-size="100">3</text></g>
<g transform="translate(212.346,756.812) scale(0.11719,0.11338)" fill="#000" stroke="#000" stroke-width="3.04" stroke-linejoin="round"><text x="0" y="0" font-size="100">&#8199;0</text><path transform="translate(0.00,0)" d="M37.26,-0.00 L28.47,-0.00 L28.47,-53.61 Q25.29,-50.71 20.12,-47.81 Q14.94,-44.92 10.84,-43.47 L10.84,-51.60 Q18.21,-54.92 23.73,-59.64 Q29.25,-64.36 31.54,-68.80 L37.26,-68.80 Z"/></g>
<g transform="translate(226.107,751.045) scale(0.11397,0.11985)" fill="#000" stroke="#000" stroke-width="2.99" stroke-linejoin="round"><text x="0" y="0" font-size="100">4</text></g>
<g transform="translate(38.073,688.345) rotate(-90) scale(0.10909,0.12676)" fill="#000" stroke="#000" stroke-width="3.40" stroke-linejoin="round"><text x="0" y="0" font-size="100">Counts</text></g>
<g transform="translate(109.842,766.900) scale(0.12896,0.10580)" fill="#000" stroke="#000" stroke-width="1.71" stroke-linejoin="round"><text x="0" y="0" font-size="100">THY-&#8199;.&#8199; PE</text><path transform="translate(224.11,0)" d="M37.26,-0.00 L28.47,-0.00 L28.47,-53.61 Q25.29,-50.71 20.12,-47.81 Q14.94,-44.92 10.84,-43.47 L10.84,-51.60 Q18.21,-54.92 23.73,-59.64 Q29.25,-64.36 31.54,-68.80 L37.26,-68.80 Z"/><path transform="translate(307.52,0)" d="M37.26,-0.00 L28.47,-0.00 L28.47,-53.61 Q25.29,-50.71 20.12,-47.81 Q14.94,-44.92 10.84,-43.47 L10.84,-51.60 Q18.21,-54.92 23.73,-59.64 Q29.25,-64.36 31.54,-68.80 L37.26,-68.80 Z"/></g>
<g transform="translate(139.054,688.979) scale(0.17764,0.14577)" fill="#000" stroke="#000" stroke-width="0.93" stroke-linejoin="round"><text x="0" y="0" font-size="100" letter-spacing="5">MFI &#8199;&#8199;56</text><path transform="translate(219.94,0)" d="M37.26,-0.00 L28.47,-0.00 L28.47,-53.61 Q25.29,-50.71 20.12,-47.81 Q14.94,-44.92 10.84,-43.47 L10.84,-51.60 Q18.21,-54.92 23.73,-59.64 Q29.25,-64.36 31.54,-68.80 L37.26,-68.80 Z"/><path transform="translate(280.56,0)" d="M37.26,-0.00 L28.47,-0.00 L28.47,-53.61 Q25.29,-50.71 20.12,-47.81 Q14.94,-44.92 10.84,-43.47 L10.84,-51.60 Q18.21,-54.92 23.73,-59.64 Q29.25,-64.36 31.54,-68.80 L37.26,-68.80 Z"/></g>
<g transform="translate(156.393,716.740) scale(0.14584,0.11130)" fill="#000" stroke="#000" stroke-width="0.94" stroke-linejoin="round"><text x="0" y="0" font-size="100">M&#8199;</text><path transform="translate(83.30,0)" d="M37.26,-0.00 L28.47,-0.00 L28.47,-53.61 Q25.29,-50.71 20.12,-47.81 Q14.94,-44.92 10.84,-43.47 L10.84,-51.60 Q18.21,-54.92 23.73,-59.64 Q29.25,-64.36 31.54,-68.80 L37.26,-68.80 Z"/></g>
<g transform="translate(281.446,742.204) rotate(-90) scale(0.10729,0.12887)" fill="#000" stroke="#000" stroke-width="3.83" stroke-linejoin="round"><text x="0" y="0" font-size="100">0</text></g>
<g transform="translate(281.446,717.996) rotate(-90) scale(0.11823,0.12887)" fill="#000" stroke="#000" stroke-width="3.65" stroke-linejoin="round"><text x="0" y="0" font-size="100">&#8199;0</text><path transform="translate(0.00,0)" d="M37.26,-0.00 L28.47,-0.00 L28.47,-53.61 Q25.29,-50.71 20.12,-47.81 Q14.94,-44.92 10.84,-43.47 L10.84,-51.60 Q18.21,-54.92 23.73,-59.64 Q29.25,-64.36 31.54,-68.80 L37.26,-68.80 Z"/></g>
<g transform="translate(281.446,689.071) rotate(-90) scale(0.11127,0.12887)" fill="#000" stroke="#000" stroke-width="3.76" stroke-linejoin="round"><text x="0" y="0" font-size="100">20</text></g>
<g transform="translate(281.446,660.776) rotate(-90) scale(0.11019,0.12887)" fill="#000" stroke="#000" stroke-width="3.78" stroke-linejoin="round"><text x="0" y="0" font-size="100">30</text></g>
<g transform="translate(281.446,632.371) rotate(-90) scale(0.10810,0.12887)" fill="#000" stroke="#000" stroke-width="3.81" stroke-linejoin="round"><text x="0" y="0" font-size="100">40</text></g>
<g transform="translate(281.446,604.416) rotate(-90) scale(0.11019,0.12887)" fill="#000" stroke="#000" stroke-width="3.78" stroke-linejoin="round"><text x="0" y="0" font-size="100">50</text></g>
<g transform="translate(283.686,757.212) scale(0.11719,0.11338)" fill="#000" stroke="#000" stroke-width="3.04" stroke-linejoin="round"><text x="0" y="0" font-size="100">&#8199;0</text><path transform="translate(0.00,0)" d="M37.26,-0.00 L28.47,-0.00 L28.47,-53.61 Q25.29,-50.71 20.12,-47.81 Q14.94,-44.92 10.84,-43.47 L10.84,-51.60 Q18.21,-54.92 23.73,-59.64 Q29.25,-64.36 31.54,-68.80 L37.26,-68.80 Z"/></g>
<g transform="translate(297.221,751.210) scale(0.11354,0.11479)" fill="#000" stroke="#000" stroke-width="3.07" stroke-linejoin="round"><text x="0" y="0" font-size="100">0</text></g>
<g transform="translate(323.301,757.212) scale(0.11719,0.11338)" fill="#000" stroke="#000" stroke-width="3.04" stroke-linejoin="round"><text x="0" y="0" font-size="100">&#8199;0</text><path transform="translate(0.00,0)" d="M37.26,-0.00 L28.47,-0.00 L28.47,-53.61 Q25.29,-50.71 20.12,-47.81 Q14.94,-44.92 10.84,-43.47 L10.84,-51.60 Q18.21,-54.92 23.73,-59.64 Q29.25,-64.36 31.54,-68.80 L37.26,-68.80 Z"/></g>
<g transform="translate(337.909,751.325) scale(0.10737,0.11812)" fill="#000" stroke="#000" stroke-width="3.11" stroke-linejoin="round"><text x="0" y="0" font-size="100">&#8199;</text><path transform="translate(0.00,0)" d="M37.26,-0.00 L28.47,-0.00 L28.47,-53.61 Q25.29,-50.71 20.12,-47.81 Q14.94,-44.92 10.84,-43.47 L10.84,-51.60 Q18.21,-54.92 23.73,-59.64 Q29.25,-64.36 31.54,-68.80 L37.26,-68.80 Z"/></g>
<g transform="translate(362.916,757.212) scale(0.11719,0.11338)" fill="#000" stroke="#000" stroke-width="3.04" stroke-linejoin="round"><text x="0" y="0" font-size="100">&#8199;0</text><path transform="translate(0.00,0)" d="M37.26,-0.00 L28.47,-0.00 L28.47,-53.61 Q25.29,-50.71 20.12,-47.81 Q14.94,-44.92 10.84,-43.47 L10.84,-51.60 Q18.21,-54.92 23.73,-59.64 Q29.25,-64.36 31.54,-68.80 L37.26,-68.80 Z"/></g>
<g transform="translate(376.339,751.325) scale(0.11322,0.11643)" fill="#000" stroke="#000" stroke-width="3.05" stroke-linejoin="round"><text x="0" y="0" font-size="100">2</text></g>
<g transform="translate(402.531,757.212) scale(0.11719,0.11338)" fill="#000" stroke="#000" stroke-width="3.04" stroke-linejoin="round"><text x="0" y="0" font-size="100">&#8199;0</text><path transform="translate(0.00,0)" d="M37.26,-0.00 L28.47,-0.00 L28.47,-53.61 Q25.29,-50.71 20.12,-47.81 Q14.94,-44.92 10.84,-43.47 L10.84,-51.60 Q18.21,-54.92 23.73,-59.64 Q29.25,-64.36 31.54,-68.80 L37.26,-68.80 Z"/></g>
<g transform="translate(416.066,751.210) scale(0.11339,0.11479)" fill="#000" stroke="#000" stroke-width="3.07" stroke-linejoin="round"><text x="0" y="0" font-size="100">3</text></g>
<g transform="translate(442.146,757.212) scale(0.11719,0.11338)" fill="#000" stroke="#000" stroke-width="3.04" stroke-linejoin="round"><text x="0" y="0" font-size="100">&#8199;0</text><path transform="translate(0.00,0)" d="M37.26,-0.00 L28.47,-0.00 L28.47,-53.61 Q25.29,-50.71 20.12,-47.81 Q14.94,-44.92 10.84,-43.47 L10.84,-51.60 Q18.21,-54.92 23.73,-59.64 Q29.25,-64.36 31.54,-68.80 L37.26,-68.80 Z"/></g>
<g transform="translate(455.907,751.445) scale(0.11397,0.11985)" fill="#000" stroke="#000" stroke-width="2.99" stroke-linejoin="round"><text x="0" y="0" font-size="100">4</text></g>
<g transform="translate(268.073,688.345) rotate(-90) scale(0.10909,0.12676)" fill="#000" stroke="#000" stroke-width="3.40" stroke-linejoin="round"><text x="0" y="0" font-size="100">Counts</text></g>
<g transform="translate(339.842,767.400) scale(0.12896,0.10580)" fill="#000" stroke="#000" stroke-width="1.71" stroke-linejoin="round"><text x="0" y="0" font-size="100">THY-&#8199;.&#8199; PE</text><path transform="translate(224.11,0)" d="M37.26,-0.00 L28.47,-0.00 L28.47,-53.61 Q25.29,-50.71 20.12,-47.81 Q14.94,-44.92 10.84,-43.47 L10.84,-51.60 Q18.21,-54.92 23.73,-59.64 Q29.25,-64.36 31.54,-68.80 L37.26,-68.80 Z"/><path transform="translate(307.52,0)" d="M37.26,-0.00 L28.47,-0.00 L28.47,-53.61 Q25.29,-50.71 20.12,-47.81 Q14.94,-44.92 10.84,-43.47 L10.84,-51.60 Q18.21,-54.92 23.73,-59.64 Q29.25,-64.36 31.54,-68.80 L37.26,-68.80 Z"/></g>
<g transform="translate(370.245,690.782) scale(0.19130,0.14296)" fill="#000" stroke="#000" stroke-width="0.91" stroke-linejoin="round"><text x="0" y="0" font-size="100" letter-spacing="5">MFI 305</text></g>
<g transform="translate(404.729,714.140) scale(0.14142,0.10986)" fill="#000" stroke="#000" stroke-width="0.96" stroke-linejoin="round"><text x="0" y="0" font-size="100">M&#8199;</text><path transform="translate(83.30,0)" d="M37.26,-0.00 L28.47,-0.00 L28.47,-53.61 Q25.29,-50.71 20.12,-47.81 Q14.94,-44.92 10.84,-43.47 L10.84,-51.60 Q18.21,-54.92 23.73,-59.64 Q29.25,-64.36 31.54,-68.80 L37.26,-68.80 Z"/></g>
<g transform="translate(50.446,943.204) rotate(-90) scale(0.10729,0.12887)" fill="#000" stroke="#000" stroke-width="3.83" stroke-linejoin="round"><text x="0" y="0" font-size="100">0</text></g>
<g transform="translate(50.446,919.056) rotate(-90) scale(0.11823,0.12887)" fill="#000" stroke="#000" stroke-width="3.65" stroke-linejoin="round"><text x="0" y="0" font-size="100">&#8199;0</text><path transform="translate(0.00,0)" d="M37.26,-0.00 L28.47,-0.00 L28.47,-53.61 Q25.29,-50.71 20.12,-47.81 Q14.94,-44.92 10.84,-43.47 L10.84,-51.60 Q18.21,-54.92 23.73,-59.64 Q29.25,-64.36 31.54,-68.80 L37.26,-68.80 Z"/></g>
<g transform="translate(50.446,890.191) rotate(-90) scale(0.11127,0.12887)" fill="#000" stroke="#000" stroke-width="3.76" stroke-linejoin="round"><text x="0" y="0" font-size="100">20</text></g>
<g transform="translate(50.446,861.956) rotate(-90) scale(0.11019,0.12887)" fill="#000" stroke="#000" stroke-width="3.78" stroke-linejoin="round"><text x="0" y="0" font-size="100">30</text></g>
<g transform="translate(50.446,833.611) rotate(-90) scale(0.10810,0.12887)" fill="#000" stroke="#000" stroke-width="3.81" stroke-linejoin="round"><text x="0" y="0" font-size="100">40</text></g>
<g transform="translate(50.446,805.716) rotate(-90) scale(0.11019,0.12887)" fill="#000" stroke="#000" stroke-width="3.78" stroke-linejoin="round"><text x="0" y="0" font-size="100">50</text></g>
<g transform="translate(52.786,958.212) scale(0.11719,0.11338)" fill="#000" stroke="#000" stroke-width="3.04" stroke-linejoin="round"><text x="0" y="0" font-size="100">&#8199;0</text><path transform="translate(0.00,0)" d="M37.26,-0.00 L28.47,-0.00 L28.47,-53.61 Q25.29,-50.71 20.12,-47.81 Q14.94,-44.92 10.84,-43.47 L10.84,-51.60 Q18.21,-54.92 23.73,-59.64 Q29.25,-64.36 31.54,-68.80 L37.26,-68.80 Z"/></g>
<g transform="translate(66.321,952.210) scale(0.11354,0.11479)" fill="#000" stroke="#000" stroke-width="3.07" stroke-linejoin="round"><text x="0" y="0" font-size="100">0</text></g>
<g transform="translate(92.426,958.212) scale(0.11719,0.11338)" fill="#000" stroke="#000" stroke-width="3.04" stroke-linejoin="round"><text x="0" y="0" font-size="100">&#8199;0</text><path transform="translate(0.00,0)" d="M37.26,-0.00 L28.47,-0.00 L28.47,-53.61 Q25.29,-50.71 20.12,-47.81 Q14.94,-44.92 10.84,-43.47 L10.84,-51.60 Q18.21,-54.92 23.73,-59.64 Q29.25,-64.36 31.54,-68.80 L37.26,-68.80 Z"/></g>
<g transform="translate(107.034,952.325) scale(0.10737,0.11812)" fill="#000" stroke="#000" stroke-width="3.11" stroke-linejoin="round"><text x="0" y="0" font-size="100">&#8199;</text><path transform="translate(0.00,0)" d="M37.26,-0.00 L28.47,-0.00 L28.47,-53.61 Q25.29,-50.71 20.12,-47.81 Q14.94,-44.92 10.84,-43.47 L10.84,-51.60 Q18.21,-54.92 23.73,-59.64 Q29.25,-64.36 31.54,-68.80 L37.26,-68.80 Z"/></g>
<g transform="translate(132.066,958.212) scale(0.11719,0.11338)" fill="#000" stroke="#000" stroke-width="3.04" stroke-linejoin="round"><text x="0" y="0" font-size="100">&#8199;0</text><path transform="translate(0.00,0)" d="M37.26,-0.00 L28.47,-0.00 L28.47,-53.61 Q25.29,-50.71 20.12,-47.81 Q14.94,-44.92 10.84,-43.47 L10.84,-51.60 Q18.21,-54.92 23.73,-59.64 Q29.25,-64.36 31.54,-68.80 L37.26,-68.80 Z"/></g>
<g transform="translate(145.489,952.325) scale(0.11322,0.11643)" fill="#000" stroke="#000" stroke-width="3.05" stroke-linejoin="round"><text x="0" y="0" font-size="100">2</text></g>
<g transform="translate(171.706,958.212) scale(0.11719,0.11338)" fill="#000" stroke="#000" stroke-width="3.04" stroke-linejoin="round"><text x="0" y="0" font-size="100">&#8199;0</text><path transform="translate(0.00,0)" d="M37.26,-0.00 L28.47,-0.00 L28.47,-53.61 Q25.29,-50.71 20.12,-47.81 Q14.94,-44.92 10.84,-43.47 L10.84,-51.60 Q18.21,-54.92 23.73,-59.64 Q29.25,-64.36 31.54,-68.80 L37.26,-68.80 Z"/></g>
<g transform="translate(185.241,952.210) scale(0.11339,0.11479)" fill="#000" stroke="#000" stroke-width="3.07" stroke-linejoin="round"><text x="0" y="0" font-size="100">3</text></g>
<g transform="translate(211.346,958.212) scale(0.11719,0.11338)" fill="#000" stroke="#000" stroke-width="3.04" stroke-linejoin="round"><text x="0" y="0" font-size="100">&#8199;0</text><path transform="translate(0.00,0)" d="M37.26,-0.00 L28.47,-0.00 L28.47,-53.61 Q25.29,-50.71 20.12,-47.81 Q14.94,-44.92 10.84,-43.47 L10.84,-51.60 Q18.21,-54.92 23.73,-59.64 Q29.25,-64.36 31.54,-68.80 L37.26,-68.80 Z"/></g>
<g transform="translate(225.107,952.445) scale(0.11397,0.11985)" fill="#000" stroke="#000" stroke-width="2.99" stroke-linejoin="round"><text x="0" y="0" font-size="100">4</text></g>
<g transform="translate(38.073,890.345) rotate(-90) scale(0.10909,0.12676)" fill="#000" stroke="#000" stroke-width="3.40" stroke-linejoin="round"><text x="0" y="0" font-size="100">Counts</text></g>
<g transform="translate(108.840,969.900) scale(0.12992,0.11304)" fill="#000" stroke="#000" stroke-width="1.65" stroke-linejoin="round"><text x="0" y="0" font-size="100">THY-&#8199;.&#8199; PE</text><path transform="translate(224.11,0)" d="M37.26,-0.00 L28.47,-0.00 L28.47,-53.61 Q25.29,-50.71 20.12,-47.81 Q14.94,-44.92 10.84,-43.47 L10.84,-51.60 Q18.21,-54.92 23.73,-59.64 Q29.25,-64.36 31.54,-68.80 L37.26,-68.80 Z"/><path transform="translate(307.52,0)" d="M37.26,-0.00 L28.47,-0.00 L28.47,-53.61 Q25.29,-50.71 20.12,-47.81 Q14.94,-44.92 10.84,-43.47 L10.84,-51.60 Q18.21,-54.92 23.73,-59.64 Q29.25,-64.36 31.54,-68.80 L37.26,-68.80 Z"/></g>
<g transform="translate(136.622,890.581) scale(0.18164,0.14437)" fill="#000" stroke="#000" stroke-width="0.93" stroke-linejoin="round"><text x="0" y="0" font-size="100" letter-spacing="5">MFI &#8199;382</text><path transform="translate(219.94,0)" d="M37.26,-0.00 L28.47,-0.00 L28.47,-53.61 Q25.29,-50.71 20.12,-47.81 Q14.94,-44.92 10.84,-43.47 L10.84,-51.60 Q18.21,-54.92 23.73,-59.64 Q29.25,-64.36 31.54,-68.80 L37.26,-68.80 Z"/></g>
<g transform="translate(151.993,917.040) scale(0.14584,0.10986)" fill="#000" stroke="#000" stroke-width="0.95" stroke-linejoin="round"><text x="0" y="0" font-size="100">M&#8199;</text><path transform="translate(83.30,0)" d="M37.26,-0.00 L28.47,-0.00 L28.47,-53.61 Q25.29,-50.71 20.12,-47.81 Q14.94,-44.92 10.84,-43.47 L10.84,-51.60 Q18.21,-54.92 23.73,-59.64 Q29.25,-64.36 31.54,-68.80 L37.26,-68.80 Z"/></g>
<g transform="translate(280.546,943.404) rotate(-90) scale(0.10729,0.12887)" fill="#000" stroke="#000" stroke-width="3.83" stroke-linejoin="round"><text x="0" y="0" font-size="100">0</text></g>
<g transform="translate(280.546,919.336) rotate(-90) scale(0.11823,0.12887)" fill="#000" stroke="#000" stroke-width="3.65" stroke-linejoin="round"><text x="0" y="0" font-size="100">&#8199;0</text><path transform="translate(0.00,0)" d="M37.26,-0.00 L28.47,-0.00 L28.47,-53.61 Q25.29,-50.71 20.12,-47.81 Q14.94,-44.92 10.84,-43.47 L10.84,-51.60 Q18.21,-54.92 23.73,-59.64 Q29.25,-64.36 31.54,-68.80 L37.26,-68.80 Z"/></g>
<g transform="translate(280.546,890.551) rotate(-90) scale(0.11127,0.12887)" fill="#000" stroke="#000" stroke-width="3.76" stroke-linejoin="round"><text x="0" y="0" font-size="100">20</text></g>
<g transform="translate(280.546,862.396) rotate(-90) scale(0.11019,0.12887)" fill="#000" stroke="#000" stroke-width="3.78" stroke-linejoin="round"><text x="0" y="0" font-size="100">30</text></g>
<g transform="translate(280.546,834.131) rotate(-90) scale(0.10810,0.12887)" fill="#000" stroke="#000" stroke-width="3.81" stroke-linejoin="round"><text x="0" y="0" font-size="100">40</text></g>
<g transform="translate(280.546,806.316) rotate(-90) scale(0.11019,0.12887)" fill="#000" stroke="#000" stroke-width="3.78" stroke-linejoin="round"><text x="0" y="0" font-size="100">50</text></g>
<g transform="translate(282.886,958.412) scale(0.11719,0.11338)" fill="#000" stroke="#000" stroke-width="3.04" stroke-linejoin="round"><text x="0" y="0" font-size="100">&#8199;0</text><path transform="translate(0.00,0)" d="M37.26,-0.00 L28.47,-0.00 L28.47,-53.61 Q25.29,-50.71 20.12,-47.81 Q14.94,-44.92 10.84,-43.47 L10.84,-51.60 Q18.21,-54.92 23.73,-59.64 Q29.25,-64.36 31.54,-68.80 L37.26,-68.80 Z"/></g>
<g transform="translate(296.421,952.410) scale(0.11354,0.11479)" fill="#000" stroke="#000" stroke-width="3.07" stroke-linejoin="round"><text x="0" y="0" font-size="100">0</text></g>
<g transform="translate(322.451,958.412) scale(0.11719,0.11338)" fill="#000" stroke="#000" stroke-width="3.04" stroke-linejoin="round"><text x="0" y="0" font-size="100">&#8199;0</text><path transform="translate(0.00,0)" d="M37.26,-0.00 L28.47,-0.00 L28.47,-53.61 Q25.29,-50.71 20.12,-47.81 Q14.94,-44.92 10.84,-43.47 L10.84,-51.60 Q18.21,-54.92 23.73,-59.64 Q29.25,-64.36 31.54,-68.80 L37.26,-68.80 Z"/></g>
<g transform="translate(337.059,952.525) scale(0.10737,0.11812)" fill="#000" stroke="#000" stroke-width="3.11" stroke-linejoin="round"><text x="0" y="0" font-size="100">&#8199;</text><path transform="translate(0.00,0)" d="M37.26,-0.00 L28.47,-0.00 L28.47,-53.61 Q25.29,-50.71 20.12,-47.81 Q14.94,-44.92 10.84,-43.47 L10.84,-51.60 Q18.21,-54.92 23.73,-59.64 Q29.25,-64.36 31.54,-68.80 L37.26,-68.80 Z"/></g>
<g transform="translate(362.016,958.412) scale(0.11719,0.11338)" fill="#000" stroke="#000" stroke-width="3.04" stroke-linejoin="round"><text x="0" y="0" font-size="100">&#8199;0</text><path transform="translate(0.00,0)" d="M37.26,-0.00 L28.47,-0.00 L28.47,-53.61 Q25.29,-50.71 20.12,-47.81 Q14.94,-44.92 10.84,-43.47 L10.84,-51.60 Q18.21,-54.92 23.73,-59.64 Q29.25,-64.36 31.54,-68.80 L37.26,-68.80 Z"/></g>
<g transform="translate(375.439,952.525) scale(0.11322,0.11643)" fill="#000" stroke="#000" stroke-width="3.05" stroke-linejoin="round"><text x="0" y="0" font-size="100">2</text></g>
<g transform="translate(401.581,958.412) scale(0.11719,0.11338)" fill="#000" stroke="#000" stroke-width="3.04" stroke-linejoin="round"><text x="0" y="0" font-size="100">&#8199;0</text><path transform="translate(0.00,0)" d="M37.26,-0.00 L28.47,-0.00 L28.47,-53.61 Q25.29,-50.71 20.12,-47.81 Q14.94,-44.92 10.84,-43.47 L10.84,-51.60 Q18.21,-54.92 23.73,-59.64 Q29.25,-64.36 31.54,-68.80 L37.26,-68.80 Z"/></g>
<g transform="translate(415.116,952.410) scale(0.11339,0.11479)" fill="#000" stroke="#000" stroke-width="3.07" stroke-linejoin="round"><text x="0" y="0" font-size="100">3</text></g>
<g transform="translate(441.146,958.412) scale(0.11719,0.11338)" fill="#000" stroke="#000" stroke-width="3.04" stroke-linejoin="round"><text x="0" y="0" font-size="100">&#8199;0</text><path transform="translate(0.00,0)" d="M37.26,-0.00 L28.47,-0.00 L28.47,-53.61 Q25.29,-50.71 20.12,-47.81 Q14.94,-44.92 10.84,-43.47 L10.84,-51.60 Q18.21,-54.92 23.73,-59.64 Q29.25,-64.36 31.54,-68.80 L37.26,-68.80 Z"/></g>
<g transform="translate(454.907,952.645) scale(0.11397,0.11985)" fill="#000" stroke="#000" stroke-width="2.99" stroke-linejoin="round"><text x="0" y="0" font-size="100">4</text></g>
<g transform="translate(268.073,890.345) rotate(-90) scale(0.10909,0.12676)" fill="#000" stroke="#000" stroke-width="3.40" stroke-linejoin="round"><text x="0" y="0" font-size="100">Counts</text></g>
<g transform="translate(338.840,969.900) scale(0.12992,0.11304)" fill="#000" stroke="#000" stroke-width="1.65" stroke-linejoin="round"><text x="0" y="0" font-size="100">THY-&#8199;.&#8199; PE</text><path transform="translate(224.11,0)" d="M37.26,-0.00 L28.47,-0.00 L28.47,-53.61 Q25.29,-50.71 20.12,-47.81 Q14.94,-44.92 10.84,-43.47 L10.84,-51.60 Q18.21,-54.92 23.73,-59.64 Q29.25,-64.36 31.54,-68.80 L37.26,-68.80 Z"/><path transform="translate(307.52,0)" d="M37.26,-0.00 L28.47,-0.00 L28.47,-53.61 Q25.29,-50.71 20.12,-47.81 Q14.94,-44.92 10.84,-43.47 L10.84,-51.60 Q18.21,-54.92 23.73,-59.64 Q29.25,-64.36 31.54,-68.80 L37.26,-68.80 Z"/></g>
<g transform="translate(372.015,893.725) scale(0.19495,0.13786)" fill="#000" stroke="#000" stroke-width="0.91" stroke-linejoin="round"><text x="0" y="0" font-size="100" letter-spacing="5">MFI &#8199;24</text><path transform="translate(219.94,0)" d="M37.26,-0.00 L28.47,-0.00 L28.47,-53.61 Q25.29,-50.71 20.12,-47.81 Q14.94,-44.92 10.84,-43.47 L10.84,-51.60 Q18.21,-54.92 23.73,-59.64 Q29.25,-64.36 31.54,-68.80 L37.26,-68.80 Z"/></g>
<g transform="translate(403.444,915.340) scale(0.15204,0.09826)" fill="#000" stroke="#000" stroke-width="0.98" stroke-linejoin="round"><text x="0" y="0" font-size="100">M&#8199;</text><path transform="translate(83.30,0)" d="M37.26,-0.00 L28.47,-0.00 L28.47,-53.61 Q25.29,-50.71 20.12,-47.81 Q14.94,-44.92 10.84,-43.47 L10.84,-51.60 Q18.21,-54.92 23.73,-59.64 Q29.25,-64.36 31.54,-68.80 L37.26,-68.80 Z"/></g>
</svg>
</body></html>
